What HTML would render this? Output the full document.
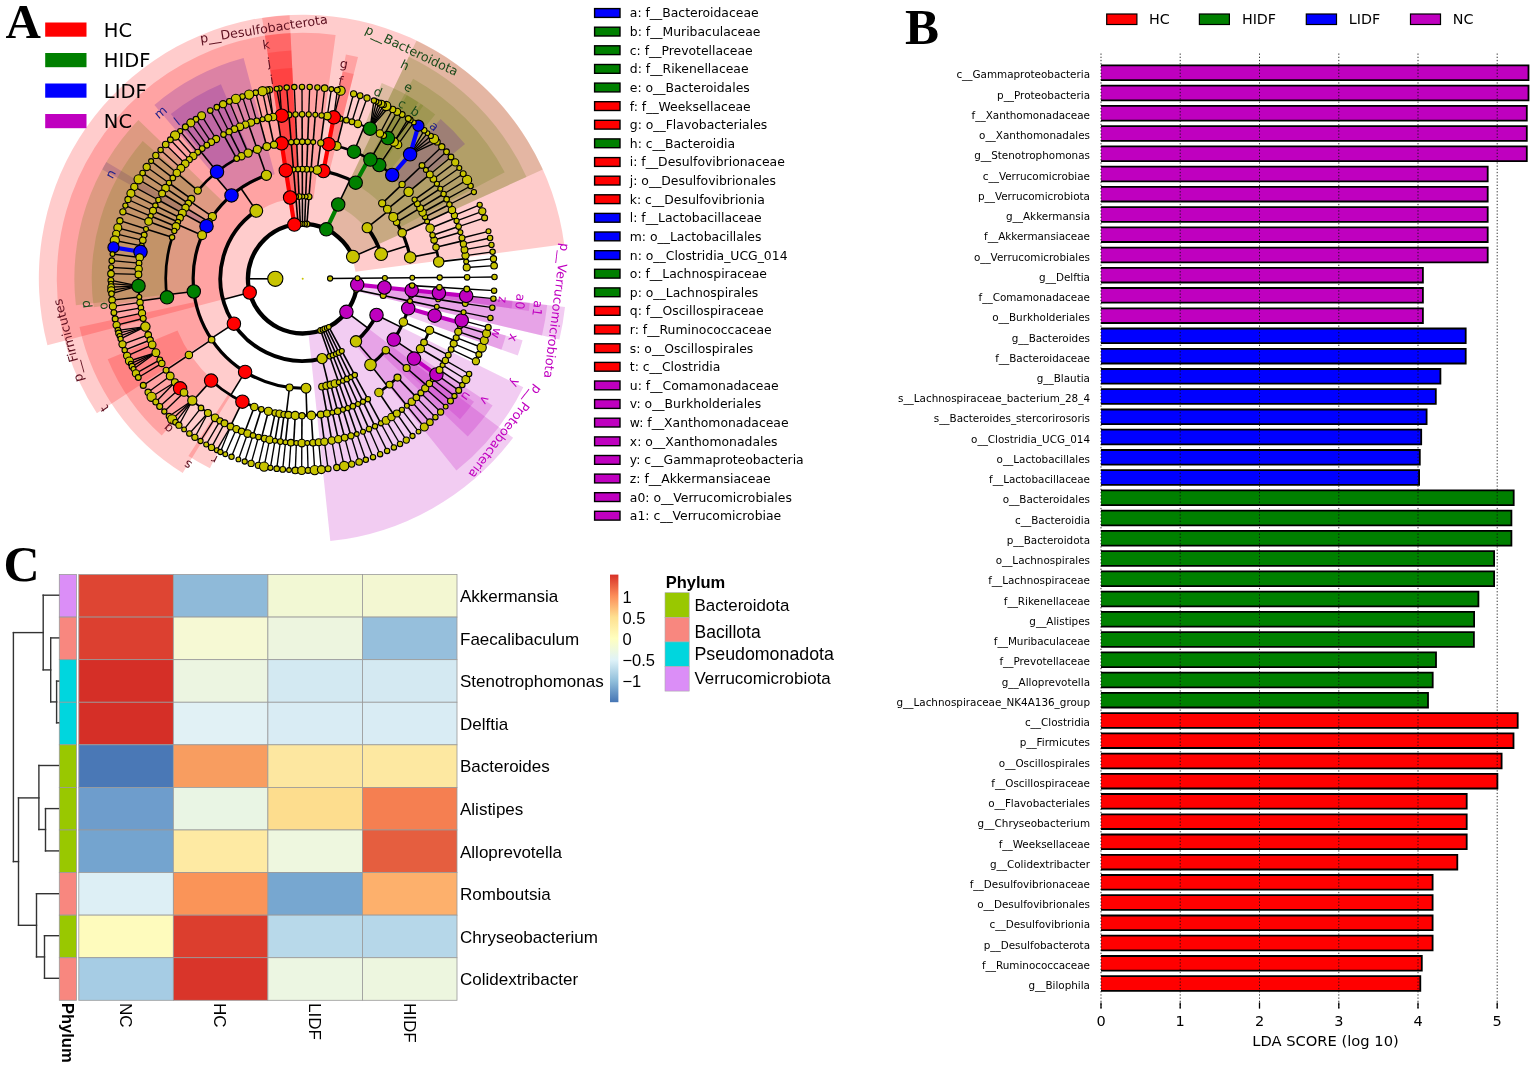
<!DOCTYPE html>
<html><head><meta charset="utf-8"><title>Figure</title><style>html,body{margin:0;padding:0;background:#fff;overflow:hidden}svg{display:block}</style></head><body>
<svg width="1535" height="1068" viewBox="0 0 1535 1068">
<style>.dv{font-family:"DejaVu Sans",sans-serif}.ls{font-family:"Liberation Sans",Arial,sans-serif}.lt{font-family:"Liberation Serif",serif;font-weight:bold}.cl{font-family:"DejaVu Sans",sans-serif;font-size:12.5px;text-anchor:middle;dominant-baseline:central}.pl{font-family:"DejaVu Sans",sans-serif;font-size:12.6px;text-anchor:middle;dominant-baseline:central}</style>
<rect width="100%" height="100%" fill="#fff"/>
<g id="clado">
<path d="M542.8 169.5A263.8 263.8 0 0 0 416.5 40.7L325.7 230.6A53.3 53.3 0 0 1 351.2 256.6Z" fill="#5a7800" fill-opacity="0.2"/>
<path d="M289.6 15.2A263.8 263.8 0 0 0 262.1 18.0L294.5 226.0A53.3 53.3 0 0 1 300.0 225.5Z" fill="#ff0000" fill-opacity="0.2"/>
<path d="M564.2 244.3A263.8 263.8 0 1 0 47.4 345.2L251.1 292.1A53.3 53.3 0 1 1 355.5 271.7Z" fill="#ff0000" fill-opacity="0.2"/>
<path d="M330.3 541.1A263.8 263.8 0 0 0 513.1 437.8L345.2 310.9A53.3 53.3 0 0 1 308.3 331.7Z" fill="#bf00bf" fill-opacity="0.2"/>
<path d="M559.4 339.6A263.8 263.8 0 0 0 565.0 307.0L355.7 284.4A53.3 53.3 0 0 1 354.6 291.0Z" fill="#bf00bf" fill-opacity="0.2"/>
<path d="M526.5 176.9A245.9 245.9 0 0 0 408.8 56.8L337.5 205.9A80.7 80.7 0 0 1 376.2 245.3Z" fill="#5a7800" fill-opacity="0.2"/>
<path d="M290.5 33.1A245.9 245.9 0 0 0 264.9 35.7L290.3 199.0A80.7 80.7 0 0 1 298.7 198.1Z" fill="#ff0000" fill-opacity="0.2"/>
<path d="M335.6 35.0A245.9 245.9 0 0 0 96.9 413.3L235.2 322.9A80.7 80.7 0 0 1 313.5 198.7Z" fill="#ff0000" fill-opacity="0.2"/>
<path d="M456.4 470.6A245.9 245.9 0 0 0 523.3 387.3L375.1 314.3A80.7 80.7 0 0 1 353.2 341.7Z" fill="#bf00bf" fill-opacity="0.2"/>
<path d="M542.0 335.5A245.9 245.9 0 0 0 547.2 305.0L382.9 287.3A80.7 80.7 0 0 1 381.2 297.3Z" fill="#bf00bf" fill-opacity="0.2"/>
<path d="M504.7 172.2A228.4 228.4 0 0 0 413.1 78.7L354.9 184.1A108.1 108.1 0 0 1 398.3 228.3Z" fill="#5a7800" fill-opacity="0.2"/>
<path d="M358.0 57.1A228.4 228.4 0 0 0 345.9 54.4L323.1 172.6A108.1 108.1 0 0 1 328.9 173.8Z" fill="#ff0000" fill-opacity="0.2"/>
<path d="M291.3 50.6A228.4 228.4 0 0 0 267.6 53.0L286.1 171.9A108.1 108.1 0 0 1 297.3 170.7Z" fill="#ff0000" fill-opacity="0.2"/>
<path d="M243.6 58.1A228.4 228.4 0 0 0 154.4 105.0L232.5 196.5A108.1 108.1 0 0 1 274.7 174.3Z" fill="#5000aa" fill-opacity="0.2"/>
<path d="M106.3 162.1A228.4 228.4 0 0 0 102.2 169.4L207.8 227.0A108.1 108.1 0 0 1 209.7 223.5Z" fill="#5000aa" fill-opacity="0.2"/>
<path d="M138.4 120.0A228.4 228.4 0 0 0 75.9 305.3L195.3 291.3A108.1 108.1 0 0 1 224.9 203.6Z" fill="#5a7800" fill-opacity="0.2"/>
<path d="M79.5 327.0A228.4 228.4 0 0 0 182.7 473.0L245.9 370.7A108.1 108.1 0 0 1 197.0 301.5Z" fill="#ff0000" fill-opacity="0.2"/>
<path d="M467.7 436.6A228.4 228.4 0 0 0 492.6 405.6L392.6 338.8A108.1 108.1 0 0 1 380.8 353.5Z" fill="#bf00bf" fill-opacity="0.2"/>
<path d="M517.8 355.5A228.4 228.4 0 0 0 522.6 340.3L406.8 307.9A108.1 108.1 0 0 1 404.5 315.1Z" fill="#bf00bf" fill-opacity="0.2"/>
<path d="M528.8 310.9A228.4 228.4 0 0 0 529.8 302.6L410.2 290.0A108.1 108.1 0 0 1 409.7 293.9Z" fill="#bf00bf" fill-opacity="0.2"/>
<path d="M465.0 143.9A211.0 211.0 0 0 0 440.6 119.0L391.2 176.1A135.5 135.5 0 0 1 407.0 192.1Z" fill="#5000aa" fill-opacity="0.2"/>
<path d="M435.2 114.5A211.0 211.0 0 0 0 420.7 103.8L378.5 166.4A135.5 135.5 0 0 1 387.8 173.2Z" fill="#5a7800" fill-opacity="0.2"/>
<path d="M423.4 105.6A211.0 211.0 0 0 0 406.9 95.2L369.6 160.9A135.5 135.5 0 0 1 380.2 167.6Z" fill="#5a7800" fill-opacity="0.2"/>
<path d="M418.5 102.3A211.0 211.0 0 0 0 381.7 83.1L353.5 153.1A135.5 135.5 0 0 1 377.1 165.4Z" fill="#5a7800" fill-opacity="0.2"/>
<path d="M353.7 74.0A211.0 211.0 0 0 0 342.6 71.5L328.3 145.6A135.5 135.5 0 0 1 335.5 147.2Z" fill="#ff0000" fill-opacity="0.2"/>
<path d="M292.2 68.0A211.0 211.0 0 0 0 270.2 70.2L281.9 144.8A135.5 135.5 0 0 1 296.0 143.4Z" fill="#ff0000" fill-opacity="0.2"/>
<path d="M220.9 84.2A211.0 211.0 0 0 0 170.8 114.0L218.0 173.0A135.5 135.5 0 0 1 250.2 153.8Z" fill="#5000aa" fill-opacity="0.2"/>
<path d="M142.7 141.1A211.0 211.0 0 0 0 93.7 307.3L168.5 297.1A135.5 135.5 0 0 1 200.0 190.3Z" fill="#5a7800" fill-opacity="0.2"/>
<path d="M107.7 359.3A211.0 211.0 0 0 0 161.7 435.6L212.1 379.5A135.5 135.5 0 0 1 177.5 330.4Z" fill="#ff0000" fill-opacity="0.2"/>
<path d="M188.4 456.1A211.0 211.0 0 0 0 209.9 468.2L243.1 400.4A135.5 135.5 0 0 1 229.3 392.6Z" fill="#ff0000" fill-opacity="0.2"/>
<path d="M460.0 419.3A211.0 211.0 0 0 0 474.0 401.8L412.7 357.8A135.5 135.5 0 0 1 403.7 369.0Z" fill="#bf00bf" fill-opacity="0.2"/>
<path d="M501.4 349.7A211.0 211.0 0 0 0 505.9 335.6L433.2 315.3A135.5 135.5 0 0 1 430.3 324.3Z" fill="#bf00bf" fill-opacity="0.2"/>
<path d="M511.6 308.4A211.0 211.0 0 0 0 512.5 300.8L437.5 292.9A135.5 135.5 0 0 1 436.8 297.8Z" fill="#bf00bf" fill-opacity="0.2"/>
<g fill="none" stroke-linecap="butt"><path d="M275.3 278.8L247.9 278.8" stroke="#000" stroke-width="1.6"/>
<path d="M352.9 256.7A54.8 54.8 0 1 0 357.2 284.6" stroke="#000" stroke-width="4.3" fill="none"/>
<path d="M352.9 256.7L378.0 245.7" stroke="#000" stroke-width="1.6"/>
<path d="M381.1 254.1A82.2 82.2 0 0 0 367.2 227.7" stroke="#000" stroke-width="3.8" fill="none"/>
<path d="M381.1 254.1L407.3 245.8" stroke="#000" stroke-width="1.6"/>
<path d="M410.2 257.4A109.6 109.6 0 0 0 396.6 222.3" stroke="#000" stroke-width="3.2" fill="none"/>
<path d="M410.2 257.4L437.1 252.1" stroke="#000" stroke-width="1.6"/>
<path d="M438.7 261.9A137.0 137.0 0 0 0 432.6 235.2" stroke="#000" stroke-width="2.7" fill="none"/>
<path d="M438.7 261.9L465.9 258.6" stroke="#000" stroke-width="1.6"/>
<path d="M466.7 267.5A164.4 164.4 0 0 0 464.5 249.7" stroke="#000" stroke-width="2.0" fill="none"/>
<path d="M466.7 267.5L494.1 265.7" stroke="#000" stroke-width="1.35"/>
<path d="M466.2 261.6L493.5 258.7" stroke="#000" stroke-width="1.35"/>
<path d="M465.5 255.6L492.6 251.8" stroke="#000" stroke-width="1.35"/>
<path d="M464.5 249.7L491.5 244.9" stroke="#000" stroke-width="1.35"/>
<path d="M436.0 247.2L462.7 240.9" stroke="#000" stroke-width="1.6"/>
<path d="M463.4 243.9A164.4 164.4 0 0 0 462.0 238.0" stroke="#000" stroke-width="2.0" fill="none"/>
<path d="M463.4 243.9L490.1 238.0" stroke="#000" stroke-width="1.35"/>
<path d="M462.0 238.0L488.5 231.3" stroke="#000" stroke-width="1.35"/>
<path d="M434.1 240.0L460.4 232.3" stroke="#000" stroke-width="1.6"/>
<path d="M432.6 235.2L458.6 226.6" stroke="#000" stroke-width="1.6"/>
<path d="M458.6 226.6L484.6 217.9" stroke="#000" stroke-width="1.35"/>
<path d="M402.2 232.8L427.1 221.4" stroke="#000" stroke-width="1.6"/>
<path d="M430.1 228.2A137.0 137.0 0 0 0 422.6 212.5" stroke="#000" stroke-width="2.7" fill="none"/>
<path d="M430.1 228.2L455.5 218.1" stroke="#000" stroke-width="1.6"/>
<path d="M456.6 220.9A164.4 164.4 0 0 0 454.4 215.4" stroke="#000" stroke-width="2.0" fill="none"/>
<path d="M456.6 220.9L482.3 211.3" stroke="#000" stroke-width="1.35"/>
<path d="M454.4 215.4L479.7 204.8" stroke="#000" stroke-width="1.35"/>
<path d="M427.1 221.4L452.0 209.9" stroke="#000" stroke-width="1.6"/>
<path d="M425.0 216.9L449.4 204.5" stroke="#000" stroke-width="1.6"/>
<path d="M449.4 204.5L473.9 192.1" stroke="#000" stroke-width="1.35"/>
<path d="M422.6 212.5L446.6 199.2" stroke="#000" stroke-width="1.6"/>
<path d="M446.6 199.2L470.6 186.0" stroke="#000" stroke-width="1.35"/>
<path d="M396.6 222.3L420.1 208.1" stroke="#000" stroke-width="1.6"/>
<path d="M420.1 208.1L443.6 194.0" stroke="#000" stroke-width="1.6"/>
<path d="M443.6 194.0L467.1 179.9" stroke="#000" stroke-width="1.35"/>
<path d="M367.2 227.7L388.7 210.7" stroke="#000" stroke-width="1.6"/>
<path d="M393.3 217.0A109.6 109.6 0 0 0 382.2 203.3" stroke="#000" stroke-width="3.2" fill="none"/>
<path d="M393.3 217.0L416.0 201.6" stroke="#000" stroke-width="1.6"/>
<path d="M417.3 203.7A137.0 137.0 0 0 0 414.6 199.6" stroke="#000" stroke-width="2.7" fill="none"/>
<path d="M417.3 203.7L440.3 188.7" stroke="#000" stroke-width="1.6"/>
<path d="M440.3 188.7L463.2 173.7" stroke="#000" stroke-width="1.35"/>
<path d="M414.6 199.6L436.9 183.8" stroke="#000" stroke-width="1.6"/>
<path d="M436.9 183.8L459.3 168.0" stroke="#000" stroke-width="1.35"/>
<path d="M387.4 209.2L408.6 191.8" stroke="#000" stroke-width="1.6"/>
<path d="M408.6 191.8L429.8 174.4" stroke="#000" stroke-width="1.6"/>
<path d="M433.4 179.0A164.4 164.4 0 0 0 425.9 169.9" stroke="#000" stroke-width="2.0" fill="none"/>
<path d="M433.4 179.0L455.2 162.4" stroke="#000" stroke-width="1.35"/>
<path d="M429.8 174.4L451.0 157.0" stroke="#000" stroke-width="1.35"/>
<path d="M425.9 169.9L446.5 151.8" stroke="#000" stroke-width="1.35"/>
<path d="M382.2 203.3L402.1 184.4" stroke="#000" stroke-width="1.6"/>
<path d="M402.1 184.4L422.0 165.5" stroke="#000" stroke-width="1.6"/>
<path d="M422.0 165.5L441.8 146.7" stroke="#000" stroke-width="1.35"/>
<path d="M326.3 229.3L338.2 204.5" stroke="#000" stroke-width="1.6"/>
<path d="M338.2 204.5L350.0 179.8" stroke="#000" stroke-width="1.6"/>
<path d="M355.7 182.7A109.6 109.6 0 0 0 317.2 170.1" stroke="#000" stroke-width="3.2" fill="none"/>
<path d="M355.7 182.7L368.9 158.8" stroke="#000" stroke-width="1.6"/>
<path d="M392.2 175.0A137.0 137.0 0 0 0 336.7 146.0" stroke="#000" stroke-width="2.7" fill="none"/>
<path d="M392.2 175.0L410.1 154.3" stroke="#000" stroke-width="1.6"/>
<path d="M410.1 154.3L437.1 141.9" stroke="#000" stroke-width="1.35"/>
<path d="M410.1 154.3L434.0 138.9" stroke="#000" stroke-width="1.35"/>
<path d="M410.1 154.3L430.8 135.9" stroke="#000" stroke-width="1.35"/>
<path d="M410.1 154.3L427.5 133.1" stroke="#000" stroke-width="1.35"/>
<path d="M410.1 154.3L424.2 130.3" stroke="#000" stroke-width="1.35"/>
<path d="M379.3 165.1L394.6 142.4" stroke="#000" stroke-width="1.6"/>
<path d="M397.9 144.7A164.4 164.4 0 0 0 391.3 140.2" stroke="#000" stroke-width="2.0" fill="none"/>
<path d="M397.9 144.7L413.8 122.4" stroke="#000" stroke-width="1.35"/>
<path d="M394.0 142.0L410.2 119.9" stroke="#000" stroke-width="1.35"/>
<path d="M394.0 142.0L408.3 118.6" stroke="#000" stroke-width="1.35"/>
<path d="M370.4 159.6L383.9 135.8" stroke="#000" stroke-width="1.6"/>
<path d="M387.9 138.1A164.4 164.4 0 0 0 379.9 133.5" stroke="#000" stroke-width="2.0" fill="none"/>
<path d="M387.9 138.1L402.1 114.6" stroke="#000" stroke-width="1.35"/>
<path d="M383.7 135.6L397.1 111.8" stroke="#000" stroke-width="1.35"/>
<path d="M379.9 133.5L392.7 109.4" stroke="#000" stroke-width="1.35"/>
<path d="M354.0 151.7L364.3 126.3" stroke="#000" stroke-width="1.6"/>
<path d="M370.1 128.7A164.4 164.4 0 0 0 351.9 121.8" stroke="#000" stroke-width="2.0" fill="none"/>
<path d="M370.1 128.7L388.6 107.2" stroke="#000" stroke-width="1.35"/>
<path d="M370.1 128.7L386.2 106.0" stroke="#000" stroke-width="1.35"/>
<path d="M370.1 128.7L383.8 104.9" stroke="#000" stroke-width="1.35"/>
<path d="M370.1 128.7L381.3 103.8" stroke="#000" stroke-width="1.35"/>
<path d="M370.1 128.7L378.9 102.7" stroke="#000" stroke-width="1.35"/>
<path d="M370.1 128.7L376.4 101.6" stroke="#000" stroke-width="1.35"/>
<path d="M370.1 128.7L373.9 100.6" stroke="#000" stroke-width="1.35"/>
<path d="M357.8 123.8L367.0 98.0" stroke="#000" stroke-width="1.35"/>
<path d="M351.9 121.8L360.1 95.7" stroke="#000" stroke-width="1.35"/>
<path d="M336.7 146.0L343.4 119.4" stroke="#000" stroke-width="1.6"/>
<path d="M346.4 120.2A164.4 164.4 0 0 0 340.5 118.7" stroke="#000" stroke-width="2.0" fill="none"/>
<path d="M346.4 120.2L353.6 93.8" stroke="#000" stroke-width="1.35"/>
<path d="M323.4 171.1L328.6 144.2" stroke="#000" stroke-width="1.6"/>
<path d="M328.6 144.2L333.8 117.3" stroke="#000" stroke-width="1.6"/>
<path d="M333.8 117.3L340.6 90.7" stroke="#000" stroke-width="1.35"/>
<path d="M333.8 117.3L337.3 90.1" stroke="#000" stroke-width="1.35"/>
<path d="M317.2 170.1L320.8 142.9" stroke="#000" stroke-width="1.6"/>
<path d="M320.8 142.9L324.4 115.7" stroke="#000" stroke-width="1.6"/>
<path d="M327.3 116.1A164.4 164.4 0 0 0 321.6 115.4" stroke="#000" stroke-width="2.0" fill="none"/>
<path d="M327.3 116.1L331.4 89.1" stroke="#000" stroke-width="1.35"/>
<path d="M321.6 115.4L324.7 88.2" stroke="#000" stroke-width="1.35"/>
<path d="M306.9 224.1L309.0 196.7" stroke="#000" stroke-width="1.6"/>
<path d="M309.0 196.7L311.1 169.4" stroke="#000" stroke-width="1.6"/>
<path d="M311.1 169.4L313.2 142.1" stroke="#000" stroke-width="1.6"/>
<path d="M313.2 142.1L315.3 114.8" stroke="#000" stroke-width="1.6"/>
<path d="M315.3 114.8L317.4 87.5" stroke="#000" stroke-width="1.35"/>
<path d="M304.7 223.9L305.7 196.6" stroke="#000" stroke-width="1.6"/>
<path d="M305.7 196.6L306.7 169.2" stroke="#000" stroke-width="1.6"/>
<path d="M306.7 169.2L307.7 141.8" stroke="#000" stroke-width="1.6"/>
<path d="M307.7 141.8L308.7 114.4" stroke="#000" stroke-width="1.6"/>
<path d="M308.7 114.4L309.7 87.0" stroke="#000" stroke-width="1.35"/>
<path d="M302.5 223.9L302.4 196.5" stroke="#000" stroke-width="1.6"/>
<path d="M302.4 196.5L302.3 169.1" stroke="#000" stroke-width="1.6"/>
<path d="M302.3 169.1L302.2 141.7" stroke="#000" stroke-width="1.6"/>
<path d="M302.2 141.7L302.1 114.3" stroke="#000" stroke-width="1.6"/>
<path d="M302.1 114.3L302.0 86.9" stroke="#000" stroke-width="1.35"/>
<path d="M300.3 224.0L299.1 196.6" stroke="#000" stroke-width="1.6"/>
<path d="M299.1 196.6L297.9 169.2" stroke="#000" stroke-width="1.6"/>
<path d="M297.9 169.2L296.7 141.8" stroke="#000" stroke-width="1.6"/>
<path d="M296.7 141.8L295.5 114.5" stroke="#000" stroke-width="1.6"/>
<path d="M295.5 114.5L294.3 87.1" stroke="#000" stroke-width="1.35"/>
<path d="M298.1 224.1L295.8 196.8" stroke="#000" stroke-width="1.6"/>
<path d="M295.8 196.8L293.5 169.5" stroke="#000" stroke-width="1.6"/>
<path d="M293.5 169.5L291.2 142.2" stroke="#000" stroke-width="1.6"/>
<path d="M291.2 142.2L288.9 114.9" stroke="#000" stroke-width="1.6"/>
<path d="M288.9 114.9L286.7 87.6" stroke="#000" stroke-width="1.35"/>
<path d="M294.3 224.6L290.1 197.5" stroke="#000" stroke-width="1.6"/>
<path d="M290.1 197.5L285.8 170.4" stroke="#000" stroke-width="1.6"/>
<path d="M285.8 170.4L281.6 143.3" stroke="#000" stroke-width="1.6"/>
<path d="M281.6 143.3L277.4 116.3" stroke="#000" stroke-width="1.6"/>
<path d="M281.7 115.7A164.4 164.4 0 0 0 273.0 117.0" stroke="#000" stroke-width="2.0" fill="none"/>
<path d="M281.7 115.7L279.7 88.3" stroke="#000" stroke-width="1.35"/>
<path d="M281.7 115.7L276.7 88.7" stroke="#000" stroke-width="1.35"/>
<path d="M273.0 117.0L269.4 89.8" stroke="#000" stroke-width="1.35"/>
<path d="M273.0 117.0L266.8 90.3" stroke="#000" stroke-width="1.35"/>
<path d="M249.7 292.5L223.2 299.4" stroke="#000" stroke-width="1.6"/>
<path d="M256.3 210.8A82.2 82.2 0 0 0 322.1 358.6" stroke="#000" stroke-width="3.8" fill="none"/>
<path d="M256.3 210.8L240.9 188.2" stroke="#000" stroke-width="1.6"/>
<path d="M266.4 175.3A109.6 109.6 0 0 0 212.4 216.6" stroke="#000" stroke-width="3.2" fill="none"/>
<path d="M266.4 175.3L257.3 149.4" stroke="#000" stroke-width="1.6"/>
<path d="M274.0 144.7A137.0 137.0 0 0 0 241.4 156.2" stroke="#000" stroke-width="2.7" fill="none"/>
<path d="M274.0 144.7L268.2 118.0" stroke="#000" stroke-width="1.6"/>
<path d="M268.2 118.0L262.5 91.2" stroke="#000" stroke-width="1.35"/>
<path d="M266.8 146.5L259.6 120.1" stroke="#000" stroke-width="1.6"/>
<path d="M262.5 119.3A164.4 164.4 0 0 0 256.7 120.9" stroke="#000" stroke-width="2.0" fill="none"/>
<path d="M262.5 119.3L255.7 92.7" stroke="#000" stroke-width="1.35"/>
<path d="M256.7 120.9L249.1 94.6" stroke="#000" stroke-width="1.35"/>
<path d="M257.3 149.4L248.2 123.6" stroke="#000" stroke-width="1.6"/>
<path d="M251.0 122.6A164.4 164.4 0 0 0 245.4 124.6" stroke="#000" stroke-width="2.0" fill="none"/>
<path d="M251.0 122.6L242.4 96.6" stroke="#000" stroke-width="1.35"/>
<path d="M245.4 124.6L235.9 98.9" stroke="#000" stroke-width="1.35"/>
<path d="M248.1 153.1L237.2 127.9" stroke="#000" stroke-width="1.6"/>
<path d="M239.9 126.8A164.4 164.4 0 0 0 234.4 129.1" stroke="#000" stroke-width="2.0" fill="none"/>
<path d="M239.9 126.8L229.4 101.4" stroke="#000" stroke-width="1.35"/>
<path d="M234.4 129.1L223.1 104.2" stroke="#000" stroke-width="1.35"/>
<path d="M241.4 156.2L229.1 131.7" stroke="#000" stroke-width="1.6"/>
<path d="M229.1 131.7L216.8 107.2" stroke="#000" stroke-width="1.35"/>
<path d="M231.5 195.4L213.7 174.5" stroke="#000" stroke-width="1.6"/>
<path d="M236.7 158.6A137.0 137.0 0 0 0 197.8 190.6" stroke="#000" stroke-width="2.7" fill="none"/>
<path d="M236.7 158.6L223.5 134.6" stroke="#000" stroke-width="1.6"/>
<path d="M223.5 134.6L210.3 110.6" stroke="#000" stroke-width="1.35"/>
<path d="M217.0 171.8L199.9 150.4" stroke="#000" stroke-width="1.6"/>
<path d="M216.1 139.0A164.4 164.4 0 0 0 185.2 163.7" stroke="#000" stroke-width="2.0" fill="none"/>
<path d="M216.1 139.0L201.6 115.7" stroke="#000" stroke-width="1.35"/>
<path d="M211.2 142.1L196.0 119.3" stroke="#000" stroke-width="1.35"/>
<path d="M206.8 145.2L190.8 122.9" stroke="#000" stroke-width="1.35"/>
<path d="M202.2 148.6L185.4 126.9" stroke="#000" stroke-width="1.35"/>
<path d="M197.7 152.2L180.2 131.1" stroke="#000" stroke-width="1.35"/>
<path d="M193.3 156.0L175.1 135.5" stroke="#000" stroke-width="1.35"/>
<path d="M189.3 159.6L170.4 139.8" stroke="#000" stroke-width="1.35"/>
<path d="M185.2 163.7L165.7 144.5" stroke="#000" stroke-width="1.35"/>
<path d="M197.8 190.6L176.8 173.0" stroke="#000" stroke-width="1.6"/>
<path d="M180.9 168.3A164.4 164.4 0 0 0 172.8 177.9" stroke="#000" stroke-width="2.0" fill="none"/>
<path d="M180.9 168.3L160.6 149.9" stroke="#000" stroke-width="1.35"/>
<path d="M176.8 173.0L155.8 155.4" stroke="#000" stroke-width="1.35"/>
<path d="M172.8 177.9L151.1 161.1" stroke="#000" stroke-width="1.35"/>
<path d="M212.4 216.6L189.8 201.1" stroke="#000" stroke-width="1.6"/>
<path d="M191.3 198.9A137.0 137.0 0 0 0 188.3 203.3" stroke="#000" stroke-width="2.7" fill="none"/>
<path d="M191.3 198.9L169.0 183.0" stroke="#000" stroke-width="1.6"/>
<path d="M169.0 183.0L146.7 167.0" stroke="#000" stroke-width="1.35"/>
<path d="M188.3 203.3L165.5 188.2" stroke="#000" stroke-width="1.6"/>
<path d="M165.5 188.2L142.6 173.1" stroke="#000" stroke-width="1.35"/>
<path d="M233.9 323.7L211.0 338.7" stroke="#000" stroke-width="1.6"/>
<path d="M209.0 221.9A109.6 109.6 0 0 0 306.0 388.2" stroke="#000" stroke-width="3.2" fill="none"/>
<path d="M209.0 221.9L185.5 207.7" stroke="#000" stroke-width="1.6"/>
<path d="M185.5 207.7L162.1 193.5" stroke="#000" stroke-width="1.6"/>
<path d="M162.1 193.5L138.6 179.3" stroke="#000" stroke-width="1.35"/>
<path d="M206.5 226.2L182.4 213.1" stroke="#000" stroke-width="1.6"/>
<path d="M182.4 213.1L158.4 200.0" stroke="#000" stroke-width="1.6"/>
<path d="M158.4 200.0L134.3 186.9" stroke="#000" stroke-width="1.35"/>
<path d="M202.1 235.2L177.0 224.3" stroke="#000" stroke-width="1.6"/>
<path d="M180.0 217.8A137.0 137.0 0 0 0 174.3 230.9" stroke="#000" stroke-width="2.7" fill="none"/>
<path d="M180.0 217.8L155.4 205.6" stroke="#000" stroke-width="1.6"/>
<path d="M155.4 205.6L130.9 193.4" stroke="#000" stroke-width="1.35"/>
<path d="M177.9 222.1L153.0 210.8" stroke="#000" stroke-width="1.6"/>
<path d="M153.0 210.8L128.0 199.5" stroke="#000" stroke-width="1.35"/>
<path d="M176.0 226.5L150.7 216.1" stroke="#000" stroke-width="1.6"/>
<path d="M150.7 216.1L125.4 205.6" stroke="#000" stroke-width="1.35"/>
<path d="M174.3 230.9L148.6 221.4" stroke="#000" stroke-width="1.6"/>
<path d="M148.6 221.4L122.9 211.8" stroke="#000" stroke-width="1.35"/>
<path d="M193.8 291.5L166.6 294.7" stroke="#000" stroke-width="1.6"/>
<path d="M172.1 237.3A137.0 137.0 0 0 0 167.0 297.3" stroke="#000" stroke-width="2.7" fill="none"/>
<path d="M172.1 237.3L146.0 229.0" stroke="#000" stroke-width="1.6"/>
<path d="M146.0 229.0L119.9 220.7" stroke="#000" stroke-width="1.35"/>
<path d="M167.0 297.3L139.8 301.0" stroke="#000" stroke-width="1.6"/>
<path d="M144.2 235.0A164.4 164.4 0 0 0 161.8 363.4" stroke="#000" stroke-width="2.0" fill="none"/>
<path d="M144.2 235.0L117.8 227.8" stroke="#000" stroke-width="1.35"/>
<path d="M142.8 240.3L116.2 233.9" stroke="#000" stroke-width="1.35"/>
<path d="M141.6 245.9L114.8 240.5" stroke="#000" stroke-width="1.35"/>
<path d="M139.7 257.5L112.5 254.0" stroke="#000" stroke-width="1.35"/>
<path d="M139.0 263.2L111.8 260.7" stroke="#000" stroke-width="1.35"/>
<path d="M138.6 269.0L111.2 267.3" stroke="#000" stroke-width="1.35"/>
<path d="M138.4 274.4L111.0 273.7" stroke="#000" stroke-width="1.35"/>
<path d="M138.5 285.9L110.9 280.4" stroke="#000" stroke-width="1.35"/>
<path d="M138.5 285.9L111.0 283.7" stroke="#000" stroke-width="1.35"/>
<path d="M138.5 285.9L111.1 287.1" stroke="#000" stroke-width="1.35"/>
<path d="M138.5 285.9L111.3 290.4" stroke="#000" stroke-width="1.35"/>
<path d="M138.5 285.9L111.5 293.7" stroke="#000" stroke-width="1.35"/>
<path d="M139.3 297.0L112.1 300.1" stroke="#000" stroke-width="1.35"/>
<path d="M140.0 302.4L112.9 306.4" stroke="#000" stroke-width="1.35"/>
<path d="M140.9 307.8L113.9 312.7" stroke="#000" stroke-width="1.35"/>
<path d="M142.0 313.2L115.2 318.9" stroke="#000" stroke-width="1.35"/>
<path d="M143.2 318.5L116.6 325.1" stroke="#000" stroke-width="1.35"/>
<path d="M145.4 326.6L118.0 330.3" stroke="#000" stroke-width="1.35"/>
<path d="M145.4 326.6L118.8 333.2" stroke="#000" stroke-width="1.35"/>
<path d="M145.4 326.6L119.7 336.1" stroke="#000" stroke-width="1.35"/>
<path d="M145.4 326.6L120.6 338.9" stroke="#000" stroke-width="1.35"/>
<path d="M148.2 334.9L122.5 344.3" stroke="#000" stroke-width="1.35"/>
<path d="M150.2 340.0L124.7 350.2" stroke="#000" stroke-width="1.35"/>
<path d="M152.2 344.8L127.1 355.8" stroke="#000" stroke-width="1.35"/>
<path d="M155.9 352.7L129.4 361.0" stroke="#000" stroke-width="1.35"/>
<path d="M155.9 352.7L130.8 363.7" stroke="#000" stroke-width="1.35"/>
<path d="M155.9 352.7L132.1 366.4" stroke="#000" stroke-width="1.35"/>
<path d="M155.9 352.7L133.5 369.0" stroke="#000" stroke-width="1.35"/>
<path d="M159.8 359.9L135.9 373.4" stroke="#000" stroke-width="1.35"/>
<path d="M161.8 363.4L138.3 377.5" stroke="#000" stroke-width="1.35"/>
<path d="M211.6 339.7L188.9 354.9" stroke="#000" stroke-width="1.6"/>
<path d="M188.9 354.9L166.1 370.2" stroke="#000" stroke-width="1.6"/>
<path d="M166.1 370.2L143.3 385.4" stroke="#000" stroke-width="1.35"/>
<path d="M245.1 371.9L230.7 395.3" stroke="#000" stroke-width="1.6"/>
<path d="M211.1 380.6A137.0 137.0 0 0 0 279.6 413.7" stroke="#000" stroke-width="2.7" fill="none"/>
<path d="M211.1 380.6L192.8 401.0" stroke="#000" stroke-width="1.6"/>
<path d="M170.2 376.0A164.4 164.4 0 0 0 220.0 420.8" stroke="#000" stroke-width="2.0" fill="none"/>
<path d="M170.2 376.0L148.1 392.2" stroke="#000" stroke-width="1.35"/>
<path d="M174.9 382.2L151.6 396.8" stroke="#000" stroke-width="1.35"/>
<path d="M174.9 382.2L155.8 402.0" stroke="#000" stroke-width="1.35"/>
<path d="M180.1 388.3L159.7 406.5" stroke="#000" stroke-width="1.35"/>
<path d="M184.0 392.5L164.3 411.5" stroke="#000" stroke-width="1.35"/>
<path d="M192.3 400.5L169.0 416.2" stroke="#000" stroke-width="1.35"/>
<path d="M192.3 400.5L172.2 419.3" stroke="#000" stroke-width="1.35"/>
<path d="M192.3 400.5L175.5 422.3" stroke="#000" stroke-width="1.35"/>
<path d="M192.3 400.5L178.9 425.2" stroke="#000" stroke-width="1.35"/>
<path d="M201.0 407.9L184.1 429.4" stroke="#000" stroke-width="1.35"/>
<path d="M207.9 413.0L189.4 433.5" stroke="#000" stroke-width="1.35"/>
<path d="M207.9 413.0L194.9 437.3" stroke="#000" stroke-width="1.35"/>
<path d="M215.1 417.8L200.5 441.0" stroke="#000" stroke-width="1.35"/>
<path d="M220.0 420.8L206.2 444.5" stroke="#000" stroke-width="1.35"/>
<path d="M242.4 401.7L230.4 426.3" stroke="#000" stroke-width="1.6"/>
<path d="M224.5 423.3A164.4 164.4 0 0 0 236.4 429.1" stroke="#000" stroke-width="2.0" fill="none"/>
<path d="M224.5 423.3L211.5 447.4" stroke="#000" stroke-width="1.35"/>
<path d="M230.6 426.5L216.8 450.2" stroke="#000" stroke-width="1.35"/>
<path d="M230.6 426.5L220.4 452.0" stroke="#000" stroke-width="1.35"/>
<path d="M236.4 429.1L225.3 454.2" stroke="#000" stroke-width="1.35"/>
<path d="M254.3 406.9L244.6 432.5" stroke="#000" stroke-width="1.6"/>
<path d="M241.6 431.3A164.4 164.4 0 0 0 247.6 433.6" stroke="#000" stroke-width="2.0" fill="none"/>
<path d="M241.6 431.3L231.5 456.8" stroke="#000" stroke-width="1.35"/>
<path d="M247.6 433.6L238.4 459.4" stroke="#000" stroke-width="1.35"/>
<path d="M261.3 409.3L253.0 435.4" stroke="#000" stroke-width="1.6"/>
<path d="M253.0 435.4L244.7 461.5" stroke="#000" stroke-width="1.35"/>
<path d="M268.4 411.3L261.5 437.9" stroke="#000" stroke-width="1.6"/>
<path d="M258.5 437.0A164.4 164.4 0 0 0 264.6 438.6" stroke="#000" stroke-width="2.0" fill="none"/>
<path d="M258.5 437.0L251.1 463.4" stroke="#000" stroke-width="1.35"/>
<path d="M264.6 438.6L258.3 465.3" stroke="#000" stroke-width="1.35"/>
<path d="M275.2 412.9L269.6 439.7" stroke="#000" stroke-width="1.6"/>
<path d="M269.6 439.7L264.1 466.6" stroke="#000" stroke-width="1.35"/>
<path d="M279.6 413.7L275.0 440.7" stroke="#000" stroke-width="1.6"/>
<path d="M275.0 440.7L270.4 467.8" stroke="#000" stroke-width="1.35"/>
<path d="M289.5 387.5L286.2 414.7" stroke="#000" stroke-width="1.6"/>
<path d="M284.1 414.4A137.0 137.0 0 0 0 288.4 414.9" stroke="#000" stroke-width="2.7" fill="none"/>
<path d="M284.1 414.4L280.4 441.6" stroke="#000" stroke-width="1.6"/>
<path d="M280.4 441.6L276.7 468.7" stroke="#000" stroke-width="1.35"/>
<path d="M288.4 414.9L285.5 442.2" stroke="#000" stroke-width="1.6"/>
<path d="M285.5 442.2L282.7 469.4" stroke="#000" stroke-width="1.35"/>
<path d="M306.0 388.2L306.9 415.6" stroke="#000" stroke-width="1.6"/>
<path d="M295.2 415.5A137.0 137.0 0 0 0 320.8 414.5" stroke="#000" stroke-width="2.7" fill="none"/>
<path d="M295.2 415.5L293.7 442.9" stroke="#000" stroke-width="1.6"/>
<path d="M290.9 442.7A164.4 164.4 0 0 0 296.4 443.0" stroke="#000" stroke-width="2.0" fill="none"/>
<path d="M290.9 442.7L289.0 470.0" stroke="#000" stroke-width="1.35"/>
<path d="M296.4 443.0L295.3 470.4" stroke="#000" stroke-width="1.35"/>
<path d="M302.0 415.7L301.8 443.1" stroke="#000" stroke-width="1.6"/>
<path d="M301.8 443.1L301.7 470.5" stroke="#000" stroke-width="1.35"/>
<path d="M311.3 415.4L313.0 442.8" stroke="#000" stroke-width="1.6"/>
<path d="M307.3 443.0A164.4 164.4 0 0 0 318.7 442.3" stroke="#000" stroke-width="2.0" fill="none"/>
<path d="M307.3 443.0L308.1 470.4" stroke="#000" stroke-width="1.35"/>
<path d="M313.0 442.8L314.7 470.1" stroke="#000" stroke-width="1.35"/>
<path d="M318.7 442.3L321.4 469.6" stroke="#000" stroke-width="1.35"/>
<path d="M320.8 414.5L324.4 441.7" stroke="#000" stroke-width="1.6"/>
<path d="M324.4 441.7L328.1 468.8" stroke="#000" stroke-width="1.35"/>
<path d="M322.1 358.6L328.6 385.2" stroke="#000" stroke-width="1.6"/>
<path d="M322.1 386.6A109.6 109.6 0 0 0 334.9 383.5" stroke="#000" stroke-width="3.2" fill="none"/>
<path d="M322.1 386.6L327.0 413.5" stroke="#000" stroke-width="1.6"/>
<path d="M327.0 413.5L331.8 440.5" stroke="#000" stroke-width="1.6"/>
<path d="M331.8 440.5L336.7 467.5" stroke="#000" stroke-width="1.35"/>
<path d="M326.4 385.7L332.4 412.5" stroke="#000" stroke-width="1.6"/>
<path d="M332.4 412.5L338.3 439.2" stroke="#000" stroke-width="1.6"/>
<path d="M338.3 439.2L344.2 466.0" stroke="#000" stroke-width="1.35"/>
<path d="M330.7 384.7L337.7 411.2" stroke="#000" stroke-width="1.6"/>
<path d="M337.7 411.2L344.7 437.6" stroke="#000" stroke-width="1.6"/>
<path d="M344.7 437.6L351.7 464.1" stroke="#000" stroke-width="1.35"/>
<path d="M334.9 383.5L343.0 409.6" stroke="#000" stroke-width="1.6"/>
<path d="M343.0 409.6L351.0 435.8" stroke="#000" stroke-width="1.6"/>
<path d="M351.0 435.8L359.1 462.0" stroke="#000" stroke-width="1.35"/>
<path d="M320.7 330.5L329.7 356.3" stroke="#000" stroke-width="1.6"/>
<path d="M329.7 356.3L338.7 382.2" stroke="#000" stroke-width="1.6"/>
<path d="M338.7 382.2L347.8 408.1" stroke="#000" stroke-width="1.6"/>
<path d="M347.8 408.1L356.8 434.0" stroke="#000" stroke-width="1.6"/>
<path d="M356.8 434.0L365.8 459.8" stroke="#000" stroke-width="1.35"/>
<path d="M322.8 329.7L332.8 355.2" stroke="#000" stroke-width="1.6"/>
<path d="M332.8 355.2L342.9 380.7" stroke="#000" stroke-width="1.6"/>
<path d="M342.9 380.7L352.9 406.2" stroke="#000" stroke-width="1.6"/>
<path d="M352.9 406.2L363.0 431.7" stroke="#000" stroke-width="1.6"/>
<path d="M363.0 431.7L373.0 457.2" stroke="#000" stroke-width="1.35"/>
<path d="M324.8 328.8L335.9 353.9" stroke="#000" stroke-width="1.6"/>
<path d="M335.9 353.9L346.9 379.0" stroke="#000" stroke-width="1.6"/>
<path d="M346.9 379.0L358.0 404.0" stroke="#000" stroke-width="1.6"/>
<path d="M358.0 404.0L369.0 429.1" stroke="#000" stroke-width="1.6"/>
<path d="M369.0 429.1L380.1 454.2" stroke="#000" stroke-width="1.35"/>
<path d="M326.8 327.9L338.9 352.5" stroke="#000" stroke-width="1.6"/>
<path d="M338.9 352.5L350.9 377.1" stroke="#000" stroke-width="1.6"/>
<path d="M350.9 377.1L363.0 401.7" stroke="#000" stroke-width="1.6"/>
<path d="M363.0 401.7L375.0 426.3" stroke="#000" stroke-width="1.6"/>
<path d="M375.0 426.3L387.1 450.9" stroke="#000" stroke-width="1.35"/>
<path d="M328.8 326.9L341.8 351.0" stroke="#000" stroke-width="1.6"/>
<path d="M341.8 351.0L354.8 375.1" stroke="#000" stroke-width="1.6"/>
<path d="M354.8 375.1L367.9 399.2" stroke="#000" stroke-width="1.6"/>
<path d="M367.9 399.2L380.9 423.3" stroke="#000" stroke-width="1.6"/>
<path d="M380.9 423.3L393.9 447.4" stroke="#000" stroke-width="1.35"/>
<path d="M346.4 311.8L368.3 328.3" stroke="#000" stroke-width="1.6"/>
<path d="M356.0 341.3A82.2 82.2 0 0 0 376.5 315.0" stroke="#000" stroke-width="3.8" fill="none"/>
<path d="M356.0 341.3L373.8 362.1" stroke="#000" stroke-width="1.6"/>
<path d="M370.5 364.8A109.6 109.6 0 0 0 385.8 350.2" stroke="#000" stroke-width="3.2" fill="none"/>
<path d="M370.5 364.8L387.5 386.3" stroke="#000" stroke-width="1.6"/>
<path d="M378.9 392.5A137.0 137.0 0 0 0 397.5 377.6" stroke="#000" stroke-width="2.7" fill="none"/>
<path d="M378.9 392.5L394.2 415.3" stroke="#000" stroke-width="1.6"/>
<path d="M386.1 420.4A164.4 164.4 0 0 0 401.9 409.8" stroke="#000" stroke-width="2.0" fill="none"/>
<path d="M386.1 420.4L400.0 444.0" stroke="#000" stroke-width="1.35"/>
<path d="M391.5 417.0L406.3 440.1" stroke="#000" stroke-width="1.35"/>
<path d="M396.8 413.5L412.5 436.0" stroke="#000" stroke-width="1.35"/>
<path d="M401.9 409.8L418.5 431.6" stroke="#000" stroke-width="1.35"/>
<path d="M389.6 384.6L406.9 405.8" stroke="#000" stroke-width="1.6"/>
<path d="M406.9 405.8L424.3 427.0" stroke="#000" stroke-width="1.35"/>
<path d="M397.5 377.6L416.4 397.4" stroke="#000" stroke-width="1.6"/>
<path d="M411.8 401.7A164.4 164.4 0 0 0 420.9 392.9" stroke="#000" stroke-width="2.0" fill="none"/>
<path d="M411.8 401.7L429.9 422.2" stroke="#000" stroke-width="1.35"/>
<path d="M416.4 397.4L435.4 417.2" stroke="#000" stroke-width="1.35"/>
<path d="M420.9 392.9L440.6 412.0" stroke="#000" stroke-width="1.35"/>
<path d="M385.8 350.2L406.6 368.0" stroke="#000" stroke-width="1.6"/>
<path d="M406.6 368.0L427.3 385.9" stroke="#000" stroke-width="1.6"/>
<path d="M425.2 388.3A164.4 164.4 0 0 0 429.4 383.5" stroke="#000" stroke-width="2.0" fill="none"/>
<path d="M425.2 388.3L445.7 406.6" stroke="#000" stroke-width="1.35"/>
<path d="M429.4 383.5L450.5 401.0" stroke="#000" stroke-width="1.35"/>
<path d="M376.5 315.0L401.0 327.1" stroke="#000" stroke-width="1.6"/>
<path d="M393.8 339.6A109.6 109.6 0 0 0 408.2 308.3" stroke="#000" stroke-width="3.2" fill="none"/>
<path d="M393.8 339.6L416.6 354.8" stroke="#000" stroke-width="1.6"/>
<path d="M414.0 358.6A137.0 137.0 0 0 0 420.4 348.7" stroke="#000" stroke-width="2.7" fill="none"/>
<path d="M414.0 358.6L436.2 374.6" stroke="#000" stroke-width="1.6"/>
<path d="M432.8 379.2A164.4 164.4 0 0 0 439.5 369.9" stroke="#000" stroke-width="2.0" fill="none"/>
<path d="M432.8 379.2L454.5 396.0" stroke="#000" stroke-width="1.35"/>
<path d="M436.4 374.4L458.7 390.4" stroke="#000" stroke-width="1.35"/>
<path d="M439.5 369.9L462.3 385.1" stroke="#000" stroke-width="1.35"/>
<path d="M420.4 348.7L444.0 362.8" stroke="#000" stroke-width="1.6"/>
<path d="M442.6 365.1A164.4 164.4 0 0 0 445.4 360.4" stroke="#000" stroke-width="2.0" fill="none"/>
<path d="M442.6 365.1L465.9 379.5" stroke="#000" stroke-width="1.35"/>
<path d="M445.4 360.4L469.1 374.0" stroke="#000" stroke-width="1.35"/>
<path d="M403.4 322.0L428.6 332.8" stroke="#000" stroke-width="1.6"/>
<path d="M424.0 342.4A137.0 137.0 0 0 0 429.6 330.3" stroke="#000" stroke-width="2.7" fill="none"/>
<path d="M424.0 342.4L448.3 355.1" stroke="#000" stroke-width="1.6"/>
<path d="M429.6 330.3L455.0 340.7" stroke="#000" stroke-width="1.6"/>
<path d="M451.1 349.4A164.4 164.4 0 0 0 458.3 331.7" stroke="#000" stroke-width="2.0" fill="none"/>
<path d="M451.1 349.4L475.9 361.2" stroke="#000" stroke-width="1.35"/>
<path d="M453.7 343.6L478.9 354.4" stroke="#000" stroke-width="1.35"/>
<path d="M456.2 337.7L481.7 347.5" stroke="#000" stroke-width="1.35"/>
<path d="M458.3 331.7L484.3 340.5" stroke="#000" stroke-width="1.35"/>
<path d="M408.2 308.3L434.6 315.7" stroke="#000" stroke-width="1.6"/>
<path d="M434.6 315.7L461.0 323.0" stroke="#000" stroke-width="1.6"/>
<path d="M460.2 325.7A164.4 164.4 0 0 0 461.7 320.4" stroke="#000" stroke-width="2.0" fill="none"/>
<path d="M460.2 325.7L486.5 333.5" stroke="#000" stroke-width="1.35"/>
<path d="M461.7 320.4L488.2 327.4" stroke="#000" stroke-width="1.35"/>
<path d="M356.3 289.9L383.2 295.5" stroke="#000" stroke-width="1.6"/>
<path d="M383.2 295.5L410.0 301.1" stroke="#000" stroke-width="1.6"/>
<path d="M410.0 301.1L436.8 306.7" stroke="#000" stroke-width="1.6"/>
<path d="M436.8 306.7L463.6 312.3" stroke="#000" stroke-width="1.6"/>
<path d="M463.6 312.3L490.4 317.9" stroke="#000" stroke-width="1.35"/>
<path d="M357.2 284.6L384.4 287.5" stroke="#000" stroke-width="1.6"/>
<path d="M384.4 287.5L411.7 290.4" stroke="#000" stroke-width="1.6"/>
<path d="M411.0 295.3A109.6 109.6 0 0 0 412.1 285.6" stroke="#000" stroke-width="3.2" fill="none"/>
<path d="M411.0 295.3L438.1 299.4" stroke="#000" stroke-width="1.6"/>
<path d="M438.1 299.4L465.2 303.6" stroke="#000" stroke-width="1.6"/>
<path d="M465.2 303.6L492.3 307.7" stroke="#000" stroke-width="1.35"/>
<path d="M411.7 290.2L438.9 293.0" stroke="#000" stroke-width="1.6"/>
<path d="M438.9 293.0L466.2 295.9" stroke="#000" stroke-width="1.6"/>
<path d="M466.2 295.9L493.4 298.7" stroke="#000" stroke-width="1.35"/>
<path d="M412.1 285.6L439.4 287.3" stroke="#000" stroke-width="1.6"/>
<path d="M439.4 287.3L466.8 289.0" stroke="#000" stroke-width="1.6"/>
<path d="M466.8 289.0L494.1 290.7" stroke="#000" stroke-width="1.35"/>
<path d="M330.1 278.5L357.5 278.2" stroke="#000" stroke-width="1.6"/>
<path d="M357.5 278.2L384.9 278.0" stroke="#000" stroke-width="1.6"/>
<path d="M384.9 278.0L412.3 277.7" stroke="#000" stroke-width="1.6"/>
<path d="M412.3 277.7L439.7 277.5" stroke="#000" stroke-width="1.6"/>
<path d="M439.7 277.5L467.1 277.3" stroke="#000" stroke-width="1.6"/>
<path d="M467.1 277.3L494.5 277.0" stroke="#000" stroke-width="1.35"/></g>
<g fill="none" stroke-linecap="round"><path d="M326.3 229.3L338.2 204.5" stroke="#008000" stroke-width="4.2" fill="none"/>
<path d="M355.7 182.7L368.9 158.8L370.4 159.6" stroke="#008000" stroke-width="4.2" fill="none"/>
<path d="M392.2 175.0L410.1 154.3" stroke="#0000ff" stroke-width="4.2" fill="none"/>
<path d="M410.1 154.3L418.4 125.7" stroke="#0000ff" stroke-width="4.2"/>
<path d="M323.4 171.1L328.6 144.2" stroke="#ff0000" stroke-width="4.2" fill="none"/>
<path d="M328.6 144.2L333.8 117.3" stroke="#ff0000" stroke-width="4.2" fill="none"/>
<path d="M294.3 224.6L290.1 197.5" stroke="#ff0000" stroke-width="4.2" fill="none"/>
<path d="M290.1 197.5L285.8 170.4" stroke="#ff0000" stroke-width="4.2" fill="none"/>
<path d="M285.8 170.4L281.6 143.3" stroke="#ff0000" stroke-width="4.2" fill="none"/>
<path d="M140.5 251.8L113.5 247.4" stroke="#0000ff" stroke-width="4.2"/>
<path d="M414.0 358.6L436.2 374.6L436.4 374.4" stroke="#bf00bf" stroke-width="4.2" fill="none"/>
<path d="M408.2 308.3L434.6 315.7" stroke="#bf00bf" stroke-width="4.2" fill="none"/>
<path d="M434.6 315.7L461.0 323.0L461.7 320.4" stroke="#bf00bf" stroke-width="4.2" fill="none"/>
<path d="M357.2 284.6L384.4 287.5" stroke="#bf00bf" stroke-width="4.2" fill="none"/>
<path d="M384.4 287.5L411.7 290.4L411.7 290.2" stroke="#bf00bf" stroke-width="4.2" fill="none"/>
<path d="M411.7 290.2L438.9 293.0" stroke="#bf00bf" stroke-width="4.2" fill="none"/>
<path d="M438.9 293.0L466.2 295.9" stroke="#bf00bf" stroke-width="4.2" fill="none"/></g>
<circle cx="302.7" cy="278.7" r="1" fill="#c8c400"/>
<circle cx="494.1" cy="265.7" r="3.3" fill="#c8c400" stroke="#000" stroke-width="1.1"/>
<circle cx="493.5" cy="258.7" r="3.1" fill="#c8c400" stroke="#000" stroke-width="1.1"/>
<circle cx="492.6" cy="251.8" r="2.7" fill="#c8c400" stroke="#000" stroke-width="1.1"/>
<circle cx="491.5" cy="244.9" r="2.6" fill="#c8c400" stroke="#000" stroke-width="1.1"/>
<circle cx="490.1" cy="238.0" r="2.7" fill="#c8c400" stroke="#000" stroke-width="1.1"/>
<circle cx="488.5" cy="231.3" r="2.5" fill="#c8c400" stroke="#000" stroke-width="1.1"/>
<circle cx="484.6" cy="217.9" r="3.0" fill="#c8c400" stroke="#000" stroke-width="1.1"/>
<circle cx="482.3" cy="211.3" r="3.6" fill="#c8c400" stroke="#000" stroke-width="1.1"/>
<circle cx="479.7" cy="204.8" r="2.6" fill="#c8c400" stroke="#000" stroke-width="1.1"/>
<circle cx="473.9" cy="192.1" r="2.6" fill="#c8c400" stroke="#000" stroke-width="1.1"/>
<circle cx="470.6" cy="186.0" r="2.7" fill="#c8c400" stroke="#000" stroke-width="1.1"/>
<circle cx="467.1" cy="179.9" r="4.6" fill="#c8c400" stroke="#000" stroke-width="1.1"/>
<circle cx="463.2" cy="173.7" r="3.0" fill="#c8c400" stroke="#000" stroke-width="1.1"/>
<circle cx="459.3" cy="168.0" r="2.5" fill="#c8c400" stroke="#000" stroke-width="1.1"/>
<circle cx="455.2" cy="162.4" r="3.6" fill="#c8c400" stroke="#000" stroke-width="1.1"/>
<circle cx="451.0" cy="157.0" r="2.9" fill="#c8c400" stroke="#000" stroke-width="1.1"/>
<circle cx="446.5" cy="151.8" r="2.9" fill="#c8c400" stroke="#000" stroke-width="1.1"/>
<circle cx="441.8" cy="146.7" r="3.1" fill="#c8c400" stroke="#000" stroke-width="1.1"/>
<circle cx="437.1" cy="141.9" r="3.1" fill="#c8c400" stroke="#000" stroke-width="1.1"/>
<circle cx="434.0" cy="138.9" r="4.6" fill="#c8c400" stroke="#000" stroke-width="1.1"/>
<circle cx="430.8" cy="135.9" r="2.6" fill="#c8c400" stroke="#000" stroke-width="1.1"/>
<circle cx="427.5" cy="133.1" r="2.4" fill="#c8c400" stroke="#000" stroke-width="1.1"/>
<circle cx="424.2" cy="130.3" r="2.8" fill="#c8c400" stroke="#000" stroke-width="1.1"/>
<circle cx="418.4" cy="125.7" r="5.6" fill="#0000ff" stroke="#000" stroke-width="1.1"/>
<circle cx="413.8" cy="122.4" r="2.4" fill="#c8c400" stroke="#000" stroke-width="1.1"/>
<circle cx="410.2" cy="119.9" r="2.9" fill="#c8c400" stroke="#000" stroke-width="1.1"/>
<circle cx="408.3" cy="118.6" r="3.0" fill="#c8c400" stroke="#000" stroke-width="1.1"/>
<circle cx="402.1" cy="114.6" r="3.0" fill="#c8c400" stroke="#000" stroke-width="1.1"/>
<circle cx="397.1" cy="111.8" r="3.6" fill="#c8c400" stroke="#000" stroke-width="1.1"/>
<circle cx="392.7" cy="109.4" r="3.1" fill="#c8c400" stroke="#000" stroke-width="1.1"/>
<circle cx="388.6" cy="107.2" r="2.4" fill="#c8c400" stroke="#000" stroke-width="1.1"/>
<circle cx="386.2" cy="106.0" r="4.6" fill="#c8c400" stroke="#000" stroke-width="1.1"/>
<circle cx="383.8" cy="104.9" r="2.6" fill="#c8c400" stroke="#000" stroke-width="1.1"/>
<circle cx="381.3" cy="103.8" r="3.6" fill="#c8c400" stroke="#000" stroke-width="1.1"/>
<circle cx="378.9" cy="102.7" r="2.7" fill="#c8c400" stroke="#000" stroke-width="1.1"/>
<circle cx="376.4" cy="101.6" r="2.5" fill="#c8c400" stroke="#000" stroke-width="1.1"/>
<circle cx="373.9" cy="100.6" r="2.7" fill="#c8c400" stroke="#000" stroke-width="1.1"/>
<circle cx="367.0" cy="98.0" r="3.1" fill="#c8c400" stroke="#000" stroke-width="1.1"/>
<circle cx="360.1" cy="95.7" r="2.9" fill="#c8c400" stroke="#000" stroke-width="1.1"/>
<circle cx="353.6" cy="93.8" r="3.1" fill="#c8c400" stroke="#000" stroke-width="1.1"/>
<circle cx="340.6" cy="90.7" r="4.6" fill="#c8c400" stroke="#000" stroke-width="1.1"/>
<circle cx="337.3" cy="90.1" r="2.9" fill="#c8c400" stroke="#000" stroke-width="1.1"/>
<circle cx="331.4" cy="89.1" r="2.5" fill="#c8c400" stroke="#000" stroke-width="1.1"/>
<circle cx="324.7" cy="88.2" r="3.3" fill="#c8c400" stroke="#000" stroke-width="1.1"/>
<circle cx="317.4" cy="87.5" r="2.7" fill="#c8c400" stroke="#000" stroke-width="1.1"/>
<circle cx="309.7" cy="87.0" r="2.7" fill="#c8c400" stroke="#000" stroke-width="1.1"/>
<circle cx="302.0" cy="86.9" r="2.7" fill="#c8c400" stroke="#000" stroke-width="1.1"/>
<circle cx="294.3" cy="87.1" r="2.7" fill="#c8c400" stroke="#000" stroke-width="1.1"/>
<circle cx="286.7" cy="87.6" r="2.7" fill="#c8c400" stroke="#000" stroke-width="1.1"/>
<circle cx="279.7" cy="88.3" r="2.6" fill="#c8c400" stroke="#000" stroke-width="1.1"/>
<circle cx="276.7" cy="88.7" r="2.5" fill="#c8c400" stroke="#000" stroke-width="1.1"/>
<circle cx="269.4" cy="89.8" r="3.3" fill="#c8c400" stroke="#000" stroke-width="1.1"/>
<circle cx="266.8" cy="90.3" r="3.3" fill="#c8c400" stroke="#000" stroke-width="1.1"/>
<circle cx="262.5" cy="91.2" r="4.6" fill="#c8c400" stroke="#000" stroke-width="1.1"/>
<circle cx="255.7" cy="92.7" r="2.8" fill="#c8c400" stroke="#000" stroke-width="1.1"/>
<circle cx="249.1" cy="94.6" r="4.6" fill="#c8c400" stroke="#000" stroke-width="1.1"/>
<circle cx="242.4" cy="96.6" r="2.8" fill="#c8c400" stroke="#000" stroke-width="1.1"/>
<circle cx="235.9" cy="98.9" r="4.6" fill="#c8c400" stroke="#000" stroke-width="1.1"/>
<circle cx="229.4" cy="101.4" r="2.9" fill="#c8c400" stroke="#000" stroke-width="1.1"/>
<circle cx="223.1" cy="104.2" r="3.6" fill="#c8c400" stroke="#000" stroke-width="1.1"/>
<circle cx="216.8" cy="107.2" r="2.8" fill="#c8c400" stroke="#000" stroke-width="1.1"/>
<circle cx="210.3" cy="110.6" r="2.8" fill="#c8c400" stroke="#000" stroke-width="1.1"/>
<circle cx="201.6" cy="115.7" r="4.0" fill="#c8c400" stroke="#000" stroke-width="1.1"/>
<circle cx="196.0" cy="119.3" r="2.9" fill="#c8c400" stroke="#000" stroke-width="1.1"/>
<circle cx="190.8" cy="122.9" r="4.0" fill="#c8c400" stroke="#000" stroke-width="1.1"/>
<circle cx="185.4" cy="126.9" r="3.0" fill="#c8c400" stroke="#000" stroke-width="1.1"/>
<circle cx="180.2" cy="131.1" r="2.6" fill="#c8c400" stroke="#000" stroke-width="1.1"/>
<circle cx="175.1" cy="135.5" r="4.6" fill="#c8c400" stroke="#000" stroke-width="1.1"/>
<circle cx="170.4" cy="139.8" r="2.9" fill="#c8c400" stroke="#000" stroke-width="1.1"/>
<circle cx="165.7" cy="144.5" r="3.3" fill="#c8c400" stroke="#000" stroke-width="1.1"/>
<circle cx="160.6" cy="149.9" r="2.7" fill="#c8c400" stroke="#000" stroke-width="1.1"/>
<circle cx="155.8" cy="155.4" r="3.1" fill="#c8c400" stroke="#000" stroke-width="1.1"/>
<circle cx="151.1" cy="161.1" r="2.5" fill="#c8c400" stroke="#000" stroke-width="1.1"/>
<circle cx="146.7" cy="167.0" r="3.6" fill="#c8c400" stroke="#000" stroke-width="1.1"/>
<circle cx="142.6" cy="173.1" r="2.8" fill="#c8c400" stroke="#000" stroke-width="1.1"/>
<circle cx="138.6" cy="179.3" r="4.6" fill="#c8c400" stroke="#000" stroke-width="1.1"/>
<circle cx="134.3" cy="186.9" r="3.6" fill="#c8c400" stroke="#000" stroke-width="1.1"/>
<circle cx="130.9" cy="193.4" r="4.0" fill="#c8c400" stroke="#000" stroke-width="1.1"/>
<circle cx="128.0" cy="199.5" r="3.1" fill="#c8c400" stroke="#000" stroke-width="1.1"/>
<circle cx="125.4" cy="205.6" r="2.6" fill="#c8c400" stroke="#000" stroke-width="1.1"/>
<circle cx="122.9" cy="211.8" r="3.1" fill="#c8c400" stroke="#000" stroke-width="1.1"/>
<circle cx="119.9" cy="220.7" r="3.1" fill="#c8c400" stroke="#000" stroke-width="1.1"/>
<circle cx="117.8" cy="227.8" r="4.0" fill="#c8c400" stroke="#000" stroke-width="1.1"/>
<circle cx="116.2" cy="233.9" r="3.6" fill="#c8c400" stroke="#000" stroke-width="1.1"/>
<circle cx="114.8" cy="240.5" r="4.6" fill="#c8c400" stroke="#000" stroke-width="1.1"/>
<circle cx="113.5" cy="247.4" r="5.6" fill="#0000ff" stroke="#000" stroke-width="1.1"/>
<circle cx="112.5" cy="254.0" r="2.4" fill="#c8c400" stroke="#000" stroke-width="1.1"/>
<circle cx="111.8" cy="260.7" r="2.8" fill="#c8c400" stroke="#000" stroke-width="1.1"/>
<circle cx="111.2" cy="267.3" r="2.5" fill="#c8c400" stroke="#000" stroke-width="1.1"/>
<circle cx="111.0" cy="273.7" r="3.3" fill="#c8c400" stroke="#000" stroke-width="1.1"/>
<circle cx="110.9" cy="280.4" r="2.9" fill="#c8c400" stroke="#000" stroke-width="1.1"/>
<circle cx="111.0" cy="283.7" r="2.4" fill="#c8c400" stroke="#000" stroke-width="1.1"/>
<circle cx="111.1" cy="287.1" r="3.3" fill="#c8c400" stroke="#000" stroke-width="1.1"/>
<circle cx="111.3" cy="290.4" r="3.6" fill="#c8c400" stroke="#000" stroke-width="1.1"/>
<circle cx="111.5" cy="293.7" r="2.8" fill="#c8c400" stroke="#000" stroke-width="1.1"/>
<circle cx="112.1" cy="300.1" r="3.3" fill="#c8c400" stroke="#000" stroke-width="1.1"/>
<circle cx="112.9" cy="306.4" r="3.6" fill="#c8c400" stroke="#000" stroke-width="1.1"/>
<circle cx="113.9" cy="312.7" r="2.9" fill="#c8c400" stroke="#000" stroke-width="1.1"/>
<circle cx="115.2" cy="318.9" r="3.0" fill="#c8c400" stroke="#000" stroke-width="1.1"/>
<circle cx="116.6" cy="325.1" r="3.6" fill="#c8c400" stroke="#000" stroke-width="1.1"/>
<circle cx="118.0" cy="330.3" r="2.9" fill="#c8c400" stroke="#000" stroke-width="1.1"/>
<circle cx="118.8" cy="333.2" r="3.1" fill="#c8c400" stroke="#000" stroke-width="1.1"/>
<circle cx="119.7" cy="336.1" r="2.6" fill="#c8c400" stroke="#000" stroke-width="1.1"/>
<circle cx="120.6" cy="338.9" r="2.6" fill="#c8c400" stroke="#000" stroke-width="1.1"/>
<circle cx="122.5" cy="344.3" r="3.6" fill="#c8c400" stroke="#000" stroke-width="1.1"/>
<circle cx="124.7" cy="350.2" r="2.7" fill="#c8c400" stroke="#000" stroke-width="1.1"/>
<circle cx="127.1" cy="355.8" r="3.6" fill="#c8c400" stroke="#000" stroke-width="1.1"/>
<circle cx="129.4" cy="361.0" r="4.0" fill="#c8c400" stroke="#000" stroke-width="1.1"/>
<circle cx="130.8" cy="363.7" r="2.4" fill="#c8c400" stroke="#000" stroke-width="1.1"/>
<circle cx="132.1" cy="366.4" r="3.0" fill="#c8c400" stroke="#000" stroke-width="1.1"/>
<circle cx="133.5" cy="369.0" r="2.5" fill="#c8c400" stroke="#000" stroke-width="1.1"/>
<circle cx="135.9" cy="373.4" r="3.6" fill="#c8c400" stroke="#000" stroke-width="1.1"/>
<circle cx="138.3" cy="377.5" r="2.9" fill="#c8c400" stroke="#000" stroke-width="1.1"/>
<circle cx="143.3" cy="385.4" r="3.0" fill="#c8c400" stroke="#000" stroke-width="1.1"/>
<circle cx="148.1" cy="392.2" r="3.1" fill="#c8c400" stroke="#000" stroke-width="1.1"/>
<circle cx="151.6" cy="396.8" r="4.6" fill="#c8c400" stroke="#000" stroke-width="1.1"/>
<circle cx="155.8" cy="402.0" r="3.0" fill="#c8c400" stroke="#000" stroke-width="1.1"/>
<circle cx="159.7" cy="406.5" r="3.0" fill="#c8c400" stroke="#000" stroke-width="1.1"/>
<circle cx="164.3" cy="411.5" r="2.6" fill="#c8c400" stroke="#000" stroke-width="1.1"/>
<circle cx="169.0" cy="416.2" r="2.8" fill="#c8c400" stroke="#000" stroke-width="1.1"/>
<circle cx="172.2" cy="419.3" r="4.6" fill="#c8c400" stroke="#000" stroke-width="1.1"/>
<circle cx="175.5" cy="422.3" r="2.8" fill="#c8c400" stroke="#000" stroke-width="1.1"/>
<circle cx="178.9" cy="425.2" r="3.1" fill="#c8c400" stroke="#000" stroke-width="1.1"/>
<circle cx="184.1" cy="429.4" r="2.4" fill="#c8c400" stroke="#000" stroke-width="1.1"/>
<circle cx="189.4" cy="433.5" r="2.8" fill="#c8c400" stroke="#000" stroke-width="1.1"/>
<circle cx="194.9" cy="437.3" r="3.1" fill="#c8c400" stroke="#000" stroke-width="1.1"/>
<circle cx="200.5" cy="441.0" r="2.6" fill="#c8c400" stroke="#000" stroke-width="1.1"/>
<circle cx="206.2" cy="444.5" r="2.5" fill="#c8c400" stroke="#000" stroke-width="1.1"/>
<circle cx="211.5" cy="447.4" r="3.1" fill="#c8c400" stroke="#000" stroke-width="1.1"/>
<circle cx="216.8" cy="450.2" r="2.4" fill="#c8c400" stroke="#000" stroke-width="1.1"/>
<circle cx="220.4" cy="452.0" r="2.6" fill="#c8c400" stroke="#000" stroke-width="1.1"/>
<circle cx="225.3" cy="454.2" r="2.4" fill="#c8c400" stroke="#000" stroke-width="1.1"/>
<circle cx="231.5" cy="456.8" r="2.7" fill="#c8c400" stroke="#000" stroke-width="1.1"/>
<circle cx="238.4" cy="459.4" r="2.4" fill="#c8c400" stroke="#000" stroke-width="1.1"/>
<circle cx="244.7" cy="461.5" r="2.6" fill="#c8c400" stroke="#000" stroke-width="1.1"/>
<circle cx="251.1" cy="463.4" r="3.1" fill="#c8c400" stroke="#000" stroke-width="1.1"/>
<circle cx="258.3" cy="465.3" r="3.1" fill="#c8c400" stroke="#000" stroke-width="1.1"/>
<circle cx="264.1" cy="466.6" r="4.6" fill="#c8c400" stroke="#000" stroke-width="1.1"/>
<circle cx="270.4" cy="467.8" r="2.6" fill="#c8c400" stroke="#000" stroke-width="1.1"/>
<circle cx="276.7" cy="468.7" r="2.8" fill="#c8c400" stroke="#000" stroke-width="1.1"/>
<circle cx="282.7" cy="469.4" r="2.9" fill="#c8c400" stroke="#000" stroke-width="1.1"/>
<circle cx="289.0" cy="470.0" r="2.4" fill="#c8c400" stroke="#000" stroke-width="1.1"/>
<circle cx="295.3" cy="470.4" r="3.3" fill="#c8c400" stroke="#000" stroke-width="1.1"/>
<circle cx="301.7" cy="470.5" r="4.0" fill="#c8c400" stroke="#000" stroke-width="1.1"/>
<circle cx="308.1" cy="470.4" r="3.0" fill="#c8c400" stroke="#000" stroke-width="1.1"/>
<circle cx="314.7" cy="470.1" r="4.6" fill="#c8c400" stroke="#000" stroke-width="1.1"/>
<circle cx="321.4" cy="469.6" r="4.0" fill="#c8c400" stroke="#000" stroke-width="1.1"/>
<circle cx="328.1" cy="468.8" r="3.0" fill="#c8c400" stroke="#000" stroke-width="1.1"/>
<circle cx="336.7" cy="467.5" r="3.1" fill="#c8c400" stroke="#000" stroke-width="1.1"/>
<circle cx="344.2" cy="466.0" r="4.6" fill="#c8c400" stroke="#000" stroke-width="1.1"/>
<circle cx="351.7" cy="464.1" r="3.1" fill="#c8c400" stroke="#000" stroke-width="1.1"/>
<circle cx="359.1" cy="462.0" r="3.3" fill="#c8c400" stroke="#000" stroke-width="1.1"/>
<circle cx="365.8" cy="459.8" r="2.7" fill="#c8c400" stroke="#000" stroke-width="1.1"/>
<circle cx="373.0" cy="457.2" r="2.7" fill="#c8c400" stroke="#000" stroke-width="1.1"/>
<circle cx="380.1" cy="454.2" r="2.7" fill="#c8c400" stroke="#000" stroke-width="1.1"/>
<circle cx="387.1" cy="450.9" r="2.7" fill="#c8c400" stroke="#000" stroke-width="1.1"/>
<circle cx="393.9" cy="447.4" r="2.7" fill="#c8c400" stroke="#000" stroke-width="1.1"/>
<circle cx="400.0" cy="444.0" r="2.7" fill="#c8c400" stroke="#000" stroke-width="1.1"/>
<circle cx="406.3" cy="440.1" r="3.1" fill="#c8c400" stroke="#000" stroke-width="1.1"/>
<circle cx="412.5" cy="436.0" r="2.6" fill="#c8c400" stroke="#000" stroke-width="1.1"/>
<circle cx="418.5" cy="431.6" r="2.4" fill="#c8c400" stroke="#000" stroke-width="1.1"/>
<circle cx="424.3" cy="427.0" r="4.0" fill="#c8c400" stroke="#000" stroke-width="1.1"/>
<circle cx="429.9" cy="422.2" r="3.3" fill="#c8c400" stroke="#000" stroke-width="1.1"/>
<circle cx="435.4" cy="417.2" r="2.7" fill="#c8c400" stroke="#000" stroke-width="1.1"/>
<circle cx="440.6" cy="412.0" r="3.1" fill="#c8c400" stroke="#000" stroke-width="1.1"/>
<circle cx="445.7" cy="406.6" r="2.4" fill="#c8c400" stroke="#000" stroke-width="1.1"/>
<circle cx="450.5" cy="401.0" r="3.0" fill="#c8c400" stroke="#000" stroke-width="1.1"/>
<circle cx="454.5" cy="396.0" r="2.6" fill="#c8c400" stroke="#000" stroke-width="1.1"/>
<circle cx="458.7" cy="390.4" r="3.0" fill="#c8c400" stroke="#000" stroke-width="1.1"/>
<circle cx="462.3" cy="385.1" r="2.7" fill="#c8c400" stroke="#000" stroke-width="1.1"/>
<circle cx="465.9" cy="379.5" r="4.0" fill="#c8c400" stroke="#000" stroke-width="1.1"/>
<circle cx="469.1" cy="374.0" r="2.7" fill="#c8c400" stroke="#000" stroke-width="1.1"/>
<circle cx="475.9" cy="361.2" r="3.6" fill="#c8c400" stroke="#000" stroke-width="1.1"/>
<circle cx="478.9" cy="354.4" r="3.0" fill="#c8c400" stroke="#000" stroke-width="1.1"/>
<circle cx="481.7" cy="347.5" r="4.6" fill="#c8c400" stroke="#000" stroke-width="1.1"/>
<circle cx="484.3" cy="340.5" r="4.0" fill="#c8c400" stroke="#000" stroke-width="1.1"/>
<circle cx="486.5" cy="333.5" r="4.0" fill="#c8c400" stroke="#000" stroke-width="1.1"/>
<circle cx="488.2" cy="327.4" r="3.0" fill="#c8c400" stroke="#000" stroke-width="1.1"/>
<circle cx="490.4" cy="317.9" r="2.7" fill="#c8c400" stroke="#000" stroke-width="1.1"/>
<circle cx="492.3" cy="307.7" r="2.7" fill="#c8c400" stroke="#000" stroke-width="1.1"/>
<circle cx="493.4" cy="298.7" r="2.7" fill="#c8c400" stroke="#000" stroke-width="1.1"/>
<circle cx="494.1" cy="290.7" r="2.7" fill="#c8c400" stroke="#000" stroke-width="1.1"/>
<circle cx="494.5" cy="277.0" r="2.7" fill="#c8c400" stroke="#000" stroke-width="1.1"/>
<circle cx="466.7" cy="267.5" r="3.5" fill="#c8c400" stroke="#000" stroke-width="1.1"/>
<circle cx="466.2" cy="261.6" r="2.5" fill="#c8c400" stroke="#000" stroke-width="1.1"/>
<circle cx="465.5" cy="255.6" r="3.6" fill="#c8c400" stroke="#000" stroke-width="1.1"/>
<circle cx="464.5" cy="249.7" r="3.4" fill="#c8c400" stroke="#000" stroke-width="1.1"/>
<circle cx="463.4" cy="243.9" r="3.1" fill="#c8c400" stroke="#000" stroke-width="1.1"/>
<circle cx="462.0" cy="238.0" r="3.0" fill="#c8c400" stroke="#000" stroke-width="1.1"/>
<circle cx="460.4" cy="232.3" r="2.5" fill="#c8c400" stroke="#000" stroke-width="1.1"/>
<circle cx="458.6" cy="226.6" r="2.8" fill="#c8c400" stroke="#000" stroke-width="1.1"/>
<circle cx="456.6" cy="220.9" r="2.6" fill="#c8c400" stroke="#000" stroke-width="1.1"/>
<circle cx="454.4" cy="215.4" r="3.1" fill="#c8c400" stroke="#000" stroke-width="1.1"/>
<circle cx="452.0" cy="209.9" r="3.7" fill="#c8c400" stroke="#000" stroke-width="1.1"/>
<circle cx="449.4" cy="204.5" r="2.7" fill="#c8c400" stroke="#000" stroke-width="1.1"/>
<circle cx="446.6" cy="199.2" r="2.8" fill="#c8c400" stroke="#000" stroke-width="1.1"/>
<circle cx="443.6" cy="194.0" r="2.7" fill="#c8c400" stroke="#000" stroke-width="1.1"/>
<circle cx="440.3" cy="188.7" r="2.5" fill="#c8c400" stroke="#000" stroke-width="1.1"/>
<circle cx="436.9" cy="183.8" r="2.6" fill="#c8c400" stroke="#000" stroke-width="1.1"/>
<circle cx="433.4" cy="179.0" r="3.3" fill="#c8c400" stroke="#000" stroke-width="1.1"/>
<circle cx="429.8" cy="174.4" r="3.4" fill="#c8c400" stroke="#000" stroke-width="1.1"/>
<circle cx="425.9" cy="169.9" r="2.5" fill="#c8c400" stroke="#000" stroke-width="1.1"/>
<circle cx="422.0" cy="165.5" r="2.9" fill="#c8c400" stroke="#000" stroke-width="1.1"/>
<circle cx="410.1" cy="154.3" r="6.7" fill="#0000ff" stroke="#000" stroke-width="1.1"/>
<circle cx="397.9" cy="144.7" r="3.9" fill="#c8c400" stroke="#000" stroke-width="1.1"/>
<circle cx="394.0" cy="142.0" r="4.4" fill="#c8c400" stroke="#000" stroke-width="1.1"/>
<circle cx="391.3" cy="140.2" r="2.5" fill="#c8c400" stroke="#000" stroke-width="1.1"/>
<circle cx="387.9" cy="138.1" r="6.7" fill="#008000" stroke="#000" stroke-width="1.1"/>
<circle cx="383.7" cy="135.6" r="2.9" fill="#c8c400" stroke="#000" stroke-width="1.1"/>
<circle cx="379.9" cy="133.5" r="3.7" fill="#c8c400" stroke="#000" stroke-width="1.1"/>
<circle cx="370.1" cy="128.7" r="6.7" fill="#008000" stroke="#000" stroke-width="1.1"/>
<circle cx="357.8" cy="123.8" r="3.8" fill="#c8c400" stroke="#000" stroke-width="1.1"/>
<circle cx="351.9" cy="121.8" r="2.9" fill="#c8c400" stroke="#000" stroke-width="1.1"/>
<circle cx="346.4" cy="120.2" r="2.8" fill="#c8c400" stroke="#000" stroke-width="1.1"/>
<circle cx="340.5" cy="118.7" r="2.6" fill="#c8c400" stroke="#000" stroke-width="1.1"/>
<circle cx="333.8" cy="117.3" r="6.7" fill="#ff0000" stroke="#000" stroke-width="1.1"/>
<circle cx="327.3" cy="116.1" r="3.8" fill="#c8c400" stroke="#000" stroke-width="1.1"/>
<circle cx="321.6" cy="115.4" r="2.7" fill="#c8c400" stroke="#000" stroke-width="1.1"/>
<circle cx="315.3" cy="114.8" r="2.5" fill="#c8c400" stroke="#000" stroke-width="1.1"/>
<circle cx="308.7" cy="114.4" r="2.6" fill="#c8c400" stroke="#000" stroke-width="1.1"/>
<circle cx="302.1" cy="114.3" r="2.8" fill="#c8c400" stroke="#000" stroke-width="1.1"/>
<circle cx="295.5" cy="114.5" r="2.7" fill="#c8c400" stroke="#000" stroke-width="1.1"/>
<circle cx="288.9" cy="114.9" r="3.0" fill="#c8c400" stroke="#000" stroke-width="1.1"/>
<circle cx="281.7" cy="115.7" r="6.7" fill="#ff0000" stroke="#000" stroke-width="1.1"/>
<circle cx="273.0" cy="117.0" r="3.8" fill="#c8c400" stroke="#000" stroke-width="1.1"/>
<circle cx="268.2" cy="118.0" r="3.6" fill="#c8c400" stroke="#000" stroke-width="1.1"/>
<circle cx="262.5" cy="119.3" r="2.5" fill="#c8c400" stroke="#000" stroke-width="1.1"/>
<circle cx="256.7" cy="120.9" r="2.9" fill="#c8c400" stroke="#000" stroke-width="1.1"/>
<circle cx="251.0" cy="122.6" r="3.7" fill="#c8c400" stroke="#000" stroke-width="1.1"/>
<circle cx="245.4" cy="124.6" r="3.6" fill="#c8c400" stroke="#000" stroke-width="1.1"/>
<circle cx="239.9" cy="126.8" r="3.8" fill="#c8c400" stroke="#000" stroke-width="1.1"/>
<circle cx="234.4" cy="129.1" r="3.4" fill="#c8c400" stroke="#000" stroke-width="1.1"/>
<circle cx="229.1" cy="131.7" r="3.1" fill="#c8c400" stroke="#000" stroke-width="1.1"/>
<circle cx="223.5" cy="134.6" r="2.8" fill="#c8c400" stroke="#000" stroke-width="1.1"/>
<circle cx="216.1" cy="139.0" r="3.6" fill="#c8c400" stroke="#000" stroke-width="1.1"/>
<circle cx="211.2" cy="142.1" r="3.4" fill="#c8c400" stroke="#000" stroke-width="1.1"/>
<circle cx="206.8" cy="145.2" r="2.9" fill="#c8c400" stroke="#000" stroke-width="1.1"/>
<circle cx="202.2" cy="148.6" r="2.9" fill="#c8c400" stroke="#000" stroke-width="1.1"/>
<circle cx="197.7" cy="152.2" r="2.9" fill="#c8c400" stroke="#000" stroke-width="1.1"/>
<circle cx="193.3" cy="156.0" r="3.7" fill="#c8c400" stroke="#000" stroke-width="1.1"/>
<circle cx="189.3" cy="159.6" r="3.1" fill="#c8c400" stroke="#000" stroke-width="1.1"/>
<circle cx="185.2" cy="163.7" r="3.8" fill="#c8c400" stroke="#000" stroke-width="1.1"/>
<circle cx="180.9" cy="168.3" r="3.9" fill="#c8c400" stroke="#000" stroke-width="1.1"/>
<circle cx="176.8" cy="173.0" r="3.7" fill="#c8c400" stroke="#000" stroke-width="1.1"/>
<circle cx="172.8" cy="177.9" r="2.8" fill="#c8c400" stroke="#000" stroke-width="1.1"/>
<circle cx="169.0" cy="183.0" r="2.7" fill="#c8c400" stroke="#000" stroke-width="1.1"/>
<circle cx="165.5" cy="188.2" r="3.8" fill="#c8c400" stroke="#000" stroke-width="1.1"/>
<circle cx="162.1" cy="193.5" r="3.4" fill="#c8c400" stroke="#000" stroke-width="1.1"/>
<circle cx="158.4" cy="200.0" r="2.7" fill="#c8c400" stroke="#000" stroke-width="1.1"/>
<circle cx="155.4" cy="205.6" r="2.7" fill="#c8c400" stroke="#000" stroke-width="1.1"/>
<circle cx="153.0" cy="210.8" r="3.5" fill="#c8c400" stroke="#000" stroke-width="1.1"/>
<circle cx="150.7" cy="216.1" r="2.6" fill="#c8c400" stroke="#000" stroke-width="1.1"/>
<circle cx="148.6" cy="221.4" r="3.8" fill="#c8c400" stroke="#000" stroke-width="1.1"/>
<circle cx="146.0" cy="229.0" r="2.5" fill="#c8c400" stroke="#000" stroke-width="1.1"/>
<circle cx="144.2" cy="235.0" r="2.9" fill="#c8c400" stroke="#000" stroke-width="1.1"/>
<circle cx="142.8" cy="240.3" r="3.3" fill="#c8c400" stroke="#000" stroke-width="1.1"/>
<circle cx="141.6" cy="245.9" r="2.7" fill="#c8c400" stroke="#000" stroke-width="1.1"/>
<circle cx="140.5" cy="251.8" r="6.7" fill="#0000ff" stroke="#000" stroke-width="1.1"/>
<circle cx="139.7" cy="257.5" r="3.8" fill="#c8c400" stroke="#000" stroke-width="1.1"/>
<circle cx="139.0" cy="263.2" r="2.9" fill="#c8c400" stroke="#000" stroke-width="1.1"/>
<circle cx="138.6" cy="269.0" r="3.7" fill="#c8c400" stroke="#000" stroke-width="1.1"/>
<circle cx="138.4" cy="274.4" r="3.4" fill="#c8c400" stroke="#000" stroke-width="1.1"/>
<circle cx="138.5" cy="285.9" r="6.7" fill="#008000" stroke="#000" stroke-width="1.1"/>
<circle cx="139.3" cy="297.0" r="2.5" fill="#c8c400" stroke="#000" stroke-width="1.1"/>
<circle cx="140.0" cy="302.4" r="3.2" fill="#c8c400" stroke="#000" stroke-width="1.1"/>
<circle cx="140.9" cy="307.8" r="2.8" fill="#c8c400" stroke="#000" stroke-width="1.1"/>
<circle cx="142.0" cy="313.2" r="3.6" fill="#c8c400" stroke="#000" stroke-width="1.1"/>
<circle cx="143.2" cy="318.5" r="3.0" fill="#c8c400" stroke="#000" stroke-width="1.1"/>
<circle cx="145.4" cy="326.6" r="4.7" fill="#c8c400" stroke="#000" stroke-width="1.1"/>
<circle cx="148.2" cy="334.9" r="3.3" fill="#c8c400" stroke="#000" stroke-width="1.1"/>
<circle cx="150.2" cy="340.0" r="3.1" fill="#c8c400" stroke="#000" stroke-width="1.1"/>
<circle cx="152.2" cy="344.8" r="3.8" fill="#c8c400" stroke="#000" stroke-width="1.1"/>
<circle cx="155.9" cy="352.7" r="3.9" fill="#c8c400" stroke="#000" stroke-width="1.1"/>
<circle cx="159.8" cy="359.9" r="2.9" fill="#c8c400" stroke="#000" stroke-width="1.1"/>
<circle cx="161.8" cy="363.4" r="3.2" fill="#c8c400" stroke="#000" stroke-width="1.1"/>
<circle cx="166.1" cy="370.2" r="3.0" fill="#c8c400" stroke="#000" stroke-width="1.1"/>
<circle cx="170.2" cy="376.0" r="3.9" fill="#c8c400" stroke="#000" stroke-width="1.1"/>
<circle cx="174.9" cy="382.2" r="3.5" fill="#c8c400" stroke="#000" stroke-width="1.1"/>
<circle cx="180.1" cy="388.3" r="6.7" fill="#ff0000" stroke="#000" stroke-width="1.1"/>
<circle cx="184.0" cy="392.5" r="3.8" fill="#c8c400" stroke="#000" stroke-width="1.1"/>
<circle cx="192.3" cy="400.5" r="4.6" fill="#c8c400" stroke="#000" stroke-width="1.1"/>
<circle cx="201.0" cy="407.9" r="2.8" fill="#c8c400" stroke="#000" stroke-width="1.1"/>
<circle cx="207.9" cy="413.0" r="3.5" fill="#c8c400" stroke="#000" stroke-width="1.1"/>
<circle cx="215.1" cy="417.8" r="3.8" fill="#c8c400" stroke="#000" stroke-width="1.1"/>
<circle cx="220.0" cy="420.8" r="3.1" fill="#c8c400" stroke="#000" stroke-width="1.1"/>
<circle cx="224.5" cy="423.3" r="3.4" fill="#c8c400" stroke="#000" stroke-width="1.1"/>
<circle cx="230.6" cy="426.5" r="3.4" fill="#c8c400" stroke="#000" stroke-width="1.1"/>
<circle cx="236.4" cy="429.1" r="3.6" fill="#c8c400" stroke="#000" stroke-width="1.1"/>
<circle cx="241.6" cy="431.3" r="3.2" fill="#c8c400" stroke="#000" stroke-width="1.1"/>
<circle cx="247.6" cy="433.6" r="3.8" fill="#c8c400" stroke="#000" stroke-width="1.1"/>
<circle cx="253.0" cy="435.4" r="2.8" fill="#c8c400" stroke="#000" stroke-width="1.1"/>
<circle cx="258.5" cy="437.0" r="2.8" fill="#c8c400" stroke="#000" stroke-width="1.1"/>
<circle cx="264.6" cy="438.6" r="3.3" fill="#c8c400" stroke="#000" stroke-width="1.1"/>
<circle cx="269.6" cy="439.7" r="3.7" fill="#c8c400" stroke="#000" stroke-width="1.1"/>
<circle cx="275.0" cy="440.7" r="2.5" fill="#c8c400" stroke="#000" stroke-width="1.1"/>
<circle cx="280.4" cy="441.6" r="2.9" fill="#c8c400" stroke="#000" stroke-width="1.1"/>
<circle cx="285.5" cy="442.2" r="2.5" fill="#c8c400" stroke="#000" stroke-width="1.1"/>
<circle cx="290.9" cy="442.7" r="3.3" fill="#c8c400" stroke="#000" stroke-width="1.1"/>
<circle cx="296.4" cy="443.0" r="2.5" fill="#c8c400" stroke="#000" stroke-width="1.1"/>
<circle cx="301.8" cy="443.1" r="3.8" fill="#c8c400" stroke="#000" stroke-width="1.1"/>
<circle cx="307.3" cy="443.0" r="2.5" fill="#c8c400" stroke="#000" stroke-width="1.1"/>
<circle cx="313.0" cy="442.8" r="3.3" fill="#c8c400" stroke="#000" stroke-width="1.1"/>
<circle cx="318.7" cy="442.3" r="3.5" fill="#c8c400" stroke="#000" stroke-width="1.1"/>
<circle cx="324.4" cy="441.7" r="3.7" fill="#c8c400" stroke="#000" stroke-width="1.1"/>
<circle cx="331.8" cy="440.5" r="3.7" fill="#c8c400" stroke="#000" stroke-width="1.1"/>
<circle cx="338.3" cy="439.2" r="3.7" fill="#c8c400" stroke="#000" stroke-width="1.1"/>
<circle cx="344.7" cy="437.6" r="3.4" fill="#c8c400" stroke="#000" stroke-width="1.1"/>
<circle cx="351.0" cy="435.8" r="3.1" fill="#c8c400" stroke="#000" stroke-width="1.1"/>
<circle cx="356.8" cy="434.0" r="2.4" fill="#c8c400" stroke="#000" stroke-width="1.1"/>
<circle cx="363.0" cy="431.7" r="2.5" fill="#c8c400" stroke="#000" stroke-width="1.1"/>
<circle cx="369.0" cy="429.1" r="2.8" fill="#c8c400" stroke="#000" stroke-width="1.1"/>
<circle cx="375.0" cy="426.3" r="2.7" fill="#c8c400" stroke="#000" stroke-width="1.1"/>
<circle cx="380.9" cy="423.3" r="2.6" fill="#c8c400" stroke="#000" stroke-width="1.1"/>
<circle cx="386.1" cy="420.4" r="3.9" fill="#c8c400" stroke="#000" stroke-width="1.1"/>
<circle cx="391.5" cy="417.0" r="3.7" fill="#c8c400" stroke="#000" stroke-width="1.1"/>
<circle cx="396.8" cy="413.5" r="3.5" fill="#c8c400" stroke="#000" stroke-width="1.1"/>
<circle cx="401.9" cy="409.8" r="2.6" fill="#c8c400" stroke="#000" stroke-width="1.1"/>
<circle cx="406.9" cy="405.8" r="2.5" fill="#c8c400" stroke="#000" stroke-width="1.1"/>
<circle cx="411.8" cy="401.7" r="3.7" fill="#c8c400" stroke="#000" stroke-width="1.1"/>
<circle cx="416.4" cy="397.4" r="3.3" fill="#c8c400" stroke="#000" stroke-width="1.1"/>
<circle cx="420.9" cy="392.9" r="3.0" fill="#c8c400" stroke="#000" stroke-width="1.1"/>
<circle cx="425.2" cy="388.3" r="3.6" fill="#c8c400" stroke="#000" stroke-width="1.1"/>
<circle cx="429.4" cy="383.5" r="3.2" fill="#c8c400" stroke="#000" stroke-width="1.1"/>
<circle cx="432.8" cy="379.2" r="2.5" fill="#c8c400" stroke="#000" stroke-width="1.1"/>
<circle cx="436.4" cy="374.4" r="6.7" fill="#bf00bf" stroke="#000" stroke-width="1.1"/>
<circle cx="439.5" cy="369.9" r="3.4" fill="#c8c400" stroke="#000" stroke-width="1.1"/>
<circle cx="442.6" cy="365.1" r="2.5" fill="#c8c400" stroke="#000" stroke-width="1.1"/>
<circle cx="445.4" cy="360.4" r="3.1" fill="#c8c400" stroke="#000" stroke-width="1.1"/>
<circle cx="448.3" cy="355.1" r="2.9" fill="#c8c400" stroke="#000" stroke-width="1.1"/>
<circle cx="451.1" cy="349.4" r="2.9" fill="#c8c400" stroke="#000" stroke-width="1.1"/>
<circle cx="453.7" cy="343.6" r="3.5" fill="#c8c400" stroke="#000" stroke-width="1.1"/>
<circle cx="456.2" cy="337.7" r="3.0" fill="#c8c400" stroke="#000" stroke-width="1.1"/>
<circle cx="458.3" cy="331.7" r="3.6" fill="#c8c400" stroke="#000" stroke-width="1.1"/>
<circle cx="460.2" cy="325.7" r="2.8" fill="#c8c400" stroke="#000" stroke-width="1.1"/>
<circle cx="461.7" cy="320.4" r="6.7" fill="#bf00bf" stroke="#000" stroke-width="1.1"/>
<circle cx="463.6" cy="312.3" r="2.5" fill="#c8c400" stroke="#000" stroke-width="1.1"/>
<circle cx="465.2" cy="303.6" r="2.9" fill="#c8c400" stroke="#000" stroke-width="1.1"/>
<circle cx="466.2" cy="295.9" r="6.7" fill="#bf00bf" stroke="#000" stroke-width="1.1"/>
<circle cx="466.8" cy="289.0" r="2.9" fill="#c8c400" stroke="#000" stroke-width="1.1"/>
<circle cx="467.1" cy="277.3" r="2.8" fill="#c8c400" stroke="#000" stroke-width="1.1"/>
<circle cx="438.7" cy="261.9" r="5.2" fill="#c8c400" stroke="#000" stroke-width="1.1"/>
<circle cx="436.0" cy="247.2" r="3.2" fill="#c8c400" stroke="#000" stroke-width="1.1"/>
<circle cx="434.1" cy="240.0" r="3.3" fill="#c8c400" stroke="#000" stroke-width="1.1"/>
<circle cx="432.6" cy="235.2" r="2.7" fill="#c8c400" stroke="#000" stroke-width="1.1"/>
<circle cx="430.1" cy="228.2" r="4.2" fill="#c8c400" stroke="#000" stroke-width="1.1"/>
<circle cx="427.1" cy="221.4" r="2.5" fill="#c8c400" stroke="#000" stroke-width="1.1"/>
<circle cx="425.0" cy="216.9" r="2.7" fill="#c8c400" stroke="#000" stroke-width="1.1"/>
<circle cx="422.6" cy="212.5" r="3.7" fill="#c8c400" stroke="#000" stroke-width="1.1"/>
<circle cx="420.1" cy="208.1" r="3.4" fill="#c8c400" stroke="#000" stroke-width="1.1"/>
<circle cx="417.3" cy="203.7" r="3.0" fill="#c8c400" stroke="#000" stroke-width="1.1"/>
<circle cx="414.6" cy="199.6" r="2.6" fill="#c8c400" stroke="#000" stroke-width="1.1"/>
<circle cx="408.6" cy="191.8" r="4.7" fill="#c8c400" stroke="#000" stroke-width="1.1"/>
<circle cx="402.1" cy="184.4" r="3.1" fill="#c8c400" stroke="#000" stroke-width="1.1"/>
<circle cx="392.2" cy="175.0" r="6.7" fill="#0000ff" stroke="#000" stroke-width="1.1"/>
<circle cx="379.3" cy="165.1" r="6.7" fill="#008000" stroke="#000" stroke-width="1.1"/>
<circle cx="370.4" cy="159.6" r="6.7" fill="#008000" stroke="#000" stroke-width="1.1"/>
<circle cx="354.0" cy="151.7" r="6.7" fill="#008000" stroke="#000" stroke-width="1.1"/>
<circle cx="336.7" cy="146.0" r="4.4" fill="#c8c400" stroke="#000" stroke-width="1.1"/>
<circle cx="328.6" cy="144.2" r="6.7" fill="#ff0000" stroke="#000" stroke-width="1.1"/>
<circle cx="320.8" cy="142.9" r="3.1" fill="#c8c400" stroke="#000" stroke-width="1.1"/>
<circle cx="313.2" cy="142.1" r="2.5" fill="#c8c400" stroke="#000" stroke-width="1.1"/>
<circle cx="307.7" cy="141.8" r="2.8" fill="#c8c400" stroke="#000" stroke-width="1.1"/>
<circle cx="302.2" cy="141.7" r="2.8" fill="#c8c400" stroke="#000" stroke-width="1.1"/>
<circle cx="296.7" cy="141.8" r="2.9" fill="#c8c400" stroke="#000" stroke-width="1.1"/>
<circle cx="291.2" cy="142.2" r="2.7" fill="#c8c400" stroke="#000" stroke-width="1.1"/>
<circle cx="281.6" cy="143.3" r="6.7" fill="#ff0000" stroke="#000" stroke-width="1.1"/>
<circle cx="274.0" cy="144.7" r="3.6" fill="#c8c400" stroke="#000" stroke-width="1.1"/>
<circle cx="266.8" cy="146.5" r="3.9" fill="#c8c400" stroke="#000" stroke-width="1.1"/>
<circle cx="257.3" cy="149.4" r="4.0" fill="#c8c400" stroke="#000" stroke-width="1.1"/>
<circle cx="248.1" cy="153.1" r="4.1" fill="#c8c400" stroke="#000" stroke-width="1.1"/>
<circle cx="241.4" cy="156.2" r="3.7" fill="#c8c400" stroke="#000" stroke-width="1.1"/>
<circle cx="236.7" cy="158.6" r="2.9" fill="#c8c400" stroke="#000" stroke-width="1.1"/>
<circle cx="217.0" cy="171.8" r="6.7" fill="#0000ff" stroke="#000" stroke-width="1.1"/>
<circle cx="197.8" cy="190.6" r="3.6" fill="#c8c400" stroke="#000" stroke-width="1.1"/>
<circle cx="191.3" cy="198.9" r="3.5" fill="#c8c400" stroke="#000" stroke-width="1.1"/>
<circle cx="188.3" cy="203.3" r="3.2" fill="#c8c400" stroke="#000" stroke-width="1.1"/>
<circle cx="185.5" cy="207.7" r="3.6" fill="#c8c400" stroke="#000" stroke-width="1.1"/>
<circle cx="182.4" cy="213.1" r="3.9" fill="#c8c400" stroke="#000" stroke-width="1.1"/>
<circle cx="180.0" cy="217.8" r="3.4" fill="#c8c400" stroke="#000" stroke-width="1.1"/>
<circle cx="177.9" cy="222.1" r="2.7" fill="#c8c400" stroke="#000" stroke-width="1.1"/>
<circle cx="176.0" cy="226.5" r="3.9" fill="#c8c400" stroke="#000" stroke-width="1.1"/>
<circle cx="174.3" cy="230.9" r="2.6" fill="#c8c400" stroke="#000" stroke-width="1.1"/>
<circle cx="172.1" cy="237.3" r="2.7" fill="#c8c400" stroke="#000" stroke-width="1.1"/>
<circle cx="167.0" cy="297.3" r="6.7" fill="#008000" stroke="#000" stroke-width="1.1"/>
<circle cx="188.9" cy="354.9" r="3.7" fill="#c8c400" stroke="#000" stroke-width="1.1"/>
<circle cx="211.1" cy="380.6" r="6.7" fill="#ff0000" stroke="#000" stroke-width="1.1"/>
<circle cx="242.4" cy="401.7" r="6.7" fill="#ff0000" stroke="#000" stroke-width="1.1"/>
<circle cx="254.3" cy="406.9" r="3.7" fill="#c8c400" stroke="#000" stroke-width="1.1"/>
<circle cx="261.3" cy="409.3" r="2.8" fill="#c8c400" stroke="#000" stroke-width="1.1"/>
<circle cx="268.4" cy="411.3" r="4.1" fill="#c8c400" stroke="#000" stroke-width="1.1"/>
<circle cx="275.2" cy="412.9" r="3.2" fill="#c8c400" stroke="#000" stroke-width="1.1"/>
<circle cx="279.6" cy="413.7" r="3.7" fill="#c8c400" stroke="#000" stroke-width="1.1"/>
<circle cx="284.1" cy="414.4" r="3.2" fill="#c8c400" stroke="#000" stroke-width="1.1"/>
<circle cx="288.4" cy="414.9" r="3.5" fill="#c8c400" stroke="#000" stroke-width="1.1"/>
<circle cx="295.2" cy="415.5" r="4.1" fill="#c8c400" stroke="#000" stroke-width="1.1"/>
<circle cx="302.0" cy="415.7" r="3.1" fill="#c8c400" stroke="#000" stroke-width="1.1"/>
<circle cx="311.3" cy="415.4" r="4.3" fill="#c8c400" stroke="#000" stroke-width="1.1"/>
<circle cx="320.8" cy="414.5" r="3.4" fill="#c8c400" stroke="#000" stroke-width="1.1"/>
<circle cx="327.0" cy="413.5" r="3.5" fill="#c8c400" stroke="#000" stroke-width="1.1"/>
<circle cx="332.4" cy="412.5" r="2.5" fill="#c8c400" stroke="#000" stroke-width="1.1"/>
<circle cx="337.7" cy="411.2" r="3.3" fill="#c8c400" stroke="#000" stroke-width="1.1"/>
<circle cx="343.0" cy="409.6" r="2.6" fill="#c8c400" stroke="#000" stroke-width="1.1"/>
<circle cx="347.8" cy="408.1" r="2.6" fill="#c8c400" stroke="#000" stroke-width="1.1"/>
<circle cx="352.9" cy="406.2" r="2.8" fill="#c8c400" stroke="#000" stroke-width="1.1"/>
<circle cx="358.0" cy="404.0" r="2.5" fill="#c8c400" stroke="#000" stroke-width="1.1"/>
<circle cx="363.0" cy="401.7" r="2.6" fill="#c8c400" stroke="#000" stroke-width="1.1"/>
<circle cx="367.9" cy="399.2" r="2.7" fill="#c8c400" stroke="#000" stroke-width="1.1"/>
<circle cx="378.9" cy="392.5" r="4.2" fill="#c8c400" stroke="#000" stroke-width="1.1"/>
<circle cx="389.6" cy="384.6" r="3.4" fill="#c8c400" stroke="#000" stroke-width="1.1"/>
<circle cx="397.5" cy="377.6" r="3.5" fill="#c8c400" stroke="#000" stroke-width="1.1"/>
<circle cx="406.6" cy="368.0" r="3.5" fill="#c8c400" stroke="#000" stroke-width="1.1"/>
<circle cx="414.0" cy="358.6" r="6.7" fill="#bf00bf" stroke="#000" stroke-width="1.1"/>
<circle cx="420.4" cy="348.7" r="4.1" fill="#c8c400" stroke="#000" stroke-width="1.1"/>
<circle cx="424.0" cy="342.4" r="3.3" fill="#c8c400" stroke="#000" stroke-width="1.1"/>
<circle cx="429.6" cy="330.3" r="4.1" fill="#c8c400" stroke="#000" stroke-width="1.1"/>
<circle cx="434.6" cy="315.7" r="6.7" fill="#bf00bf" stroke="#000" stroke-width="1.1"/>
<circle cx="436.8" cy="306.7" r="2.4" fill="#c8c400" stroke="#000" stroke-width="1.1"/>
<circle cx="438.1" cy="299.4" r="2.4" fill="#c8c400" stroke="#000" stroke-width="1.1"/>
<circle cx="438.9" cy="293.0" r="6.7" fill="#bf00bf" stroke="#000" stroke-width="1.1"/>
<circle cx="439.4" cy="287.3" r="2.8" fill="#c8c400" stroke="#000" stroke-width="1.1"/>
<circle cx="439.7" cy="277.5" r="2.6" fill="#c8c400" stroke="#000" stroke-width="1.1"/>
<circle cx="410.2" cy="257.4" r="5.7" fill="#c8c400" stroke="#000" stroke-width="1.1"/>
<circle cx="402.2" cy="232.8" r="4.2" fill="#c8c400" stroke="#000" stroke-width="1.1"/>
<circle cx="396.6" cy="222.3" r="3.2" fill="#c8c400" stroke="#000" stroke-width="1.1"/>
<circle cx="393.3" cy="217.0" r="4.5" fill="#c8c400" stroke="#000" stroke-width="1.1"/>
<circle cx="387.4" cy="209.2" r="3.9" fill="#c8c400" stroke="#000" stroke-width="1.1"/>
<circle cx="382.2" cy="203.3" r="3.6" fill="#c8c400" stroke="#000" stroke-width="1.1"/>
<circle cx="355.7" cy="182.7" r="6.7" fill="#008000" stroke="#000" stroke-width="1.1"/>
<circle cx="323.4" cy="171.1" r="6.7" fill="#ff0000" stroke="#000" stroke-width="1.1"/>
<circle cx="317.2" cy="170.1" r="4.3" fill="#c8c400" stroke="#000" stroke-width="1.1"/>
<circle cx="311.1" cy="169.4" r="2.6" fill="#c8c400" stroke="#000" stroke-width="1.1"/>
<circle cx="306.7" cy="169.2" r="3.0" fill="#c8c400" stroke="#000" stroke-width="1.1"/>
<circle cx="302.3" cy="169.1" r="2.9" fill="#c8c400" stroke="#000" stroke-width="1.1"/>
<circle cx="297.9" cy="169.2" r="2.7" fill="#c8c400" stroke="#000" stroke-width="1.1"/>
<circle cx="293.5" cy="169.5" r="2.5" fill="#c8c400" stroke="#000" stroke-width="1.1"/>
<circle cx="285.8" cy="170.4" r="6.7" fill="#ff0000" stroke="#000" stroke-width="1.1"/>
<circle cx="266.4" cy="175.3" r="5.1" fill="#c8c400" stroke="#000" stroke-width="1.1"/>
<circle cx="231.5" cy="195.4" r="6.7" fill="#0000ff" stroke="#000" stroke-width="1.1"/>
<circle cx="212.4" cy="216.6" r="4.1" fill="#c8c400" stroke="#000" stroke-width="1.1"/>
<circle cx="209.0" cy="221.9" r="3.3" fill="#c8c400" stroke="#000" stroke-width="1.1"/>
<circle cx="206.5" cy="226.2" r="6.7" fill="#0000ff" stroke="#000" stroke-width="1.1"/>
<circle cx="202.1" cy="235.2" r="4.4" fill="#c8c400" stroke="#000" stroke-width="1.1"/>
<circle cx="193.8" cy="291.5" r="6.7" fill="#008000" stroke="#000" stroke-width="1.1"/>
<circle cx="211.6" cy="339.7" r="3.3" fill="#c8c400" stroke="#000" stroke-width="1.1"/>
<circle cx="245.1" cy="371.9" r="6.7" fill="#ff0000" stroke="#000" stroke-width="1.1"/>
<circle cx="289.5" cy="387.5" r="3.5" fill="#c8c400" stroke="#000" stroke-width="1.1"/>
<circle cx="306.0" cy="388.2" r="4.9" fill="#c8c400" stroke="#000" stroke-width="1.1"/>
<circle cx="322.1" cy="386.6" r="3.4" fill="#c8c400" stroke="#000" stroke-width="1.1"/>
<circle cx="326.4" cy="385.7" r="3.6" fill="#c8c400" stroke="#000" stroke-width="1.1"/>
<circle cx="330.7" cy="384.7" r="3.6" fill="#c8c400" stroke="#000" stroke-width="1.1"/>
<circle cx="334.9" cy="383.5" r="3.8" fill="#c8c400" stroke="#000" stroke-width="1.1"/>
<circle cx="338.7" cy="382.2" r="2.4" fill="#c8c400" stroke="#000" stroke-width="1.1"/>
<circle cx="342.9" cy="380.7" r="2.5" fill="#c8c400" stroke="#000" stroke-width="1.1"/>
<circle cx="346.9" cy="379.0" r="2.9" fill="#c8c400" stroke="#000" stroke-width="1.1"/>
<circle cx="350.9" cy="377.1" r="2.5" fill="#c8c400" stroke="#000" stroke-width="1.1"/>
<circle cx="354.8" cy="375.1" r="2.7" fill="#c8c400" stroke="#000" stroke-width="1.1"/>
<circle cx="370.5" cy="364.8" r="5.8" fill="#c8c400" stroke="#000" stroke-width="1.1"/>
<circle cx="385.8" cy="350.2" r="3.7" fill="#c8c400" stroke="#000" stroke-width="1.1"/>
<circle cx="393.8" cy="339.6" r="6.7" fill="#bf00bf" stroke="#000" stroke-width="1.1"/>
<circle cx="403.4" cy="322.0" r="4.2" fill="#c8c400" stroke="#000" stroke-width="1.1"/>
<circle cx="408.2" cy="308.3" r="6.7" fill="#bf00bf" stroke="#000" stroke-width="1.1"/>
<circle cx="410.0" cy="301.1" r="2.5" fill="#c8c400" stroke="#000" stroke-width="1.1"/>
<circle cx="411.0" cy="295.3" r="2.7" fill="#c8c400" stroke="#000" stroke-width="1.1"/>
<circle cx="411.7" cy="290.2" r="6.7" fill="#bf00bf" stroke="#000" stroke-width="1.1"/>
<circle cx="412.1" cy="285.6" r="2.7" fill="#c8c400" stroke="#000" stroke-width="1.1"/>
<circle cx="412.3" cy="277.7" r="2.4" fill="#c8c400" stroke="#000" stroke-width="1.1"/>
<circle cx="381.1" cy="254.1" r="6.4" fill="#c8c400" stroke="#000" stroke-width="1.1"/>
<circle cx="367.2" cy="227.7" r="5.1" fill="#c8c400" stroke="#000" stroke-width="1.1"/>
<circle cx="338.2" cy="204.5" r="6.7" fill="#008000" stroke="#000" stroke-width="1.1"/>
<circle cx="309.0" cy="196.7" r="3.0" fill="#c8c400" stroke="#000" stroke-width="1.1"/>
<circle cx="305.7" cy="196.6" r="2.4" fill="#c8c400" stroke="#000" stroke-width="1.1"/>
<circle cx="302.4" cy="196.5" r="2.4" fill="#c8c400" stroke="#000" stroke-width="1.1"/>
<circle cx="299.1" cy="196.6" r="2.9" fill="#c8c400" stroke="#000" stroke-width="1.1"/>
<circle cx="295.8" cy="196.8" r="2.7" fill="#c8c400" stroke="#000" stroke-width="1.1"/>
<circle cx="290.1" cy="197.5" r="6.7" fill="#ff0000" stroke="#000" stroke-width="1.1"/>
<circle cx="256.3" cy="210.8" r="6.4" fill="#c8c400" stroke="#000" stroke-width="1.1"/>
<circle cx="233.9" cy="323.7" r="6.7" fill="#ff0000" stroke="#000" stroke-width="1.1"/>
<circle cx="322.1" cy="358.6" r="5.1" fill="#c8c400" stroke="#000" stroke-width="1.1"/>
<circle cx="329.7" cy="356.3" r="2.7" fill="#c8c400" stroke="#000" stroke-width="1.1"/>
<circle cx="332.8" cy="355.2" r="2.6" fill="#c8c400" stroke="#000" stroke-width="1.1"/>
<circle cx="335.9" cy="353.9" r="2.5" fill="#c8c400" stroke="#000" stroke-width="1.1"/>
<circle cx="338.9" cy="352.5" r="2.8" fill="#c8c400" stroke="#000" stroke-width="1.1"/>
<circle cx="341.8" cy="351.0" r="2.5" fill="#c8c400" stroke="#000" stroke-width="1.1"/>
<circle cx="356.0" cy="341.3" r="5.7" fill="#c8c400" stroke="#000" stroke-width="1.1"/>
<circle cx="376.5" cy="315.0" r="6.7" fill="#bf00bf" stroke="#000" stroke-width="1.1"/>
<circle cx="383.2" cy="295.5" r="3.0" fill="#c8c400" stroke="#000" stroke-width="1.1"/>
<circle cx="384.4" cy="287.5" r="6.7" fill="#bf00bf" stroke="#000" stroke-width="1.1"/>
<circle cx="384.9" cy="278.0" r="2.5" fill="#c8c400" stroke="#000" stroke-width="1.1"/>
<circle cx="352.9" cy="256.7" r="6.4" fill="#c8c400" stroke="#000" stroke-width="1.1"/>
<circle cx="326.3" cy="229.3" r="6.7" fill="#008000" stroke="#000" stroke-width="1.1"/>
<circle cx="306.9" cy="224.1" r="3.0" fill="#c8c400" stroke="#000" stroke-width="1.1"/>
<circle cx="304.7" cy="223.9" r="2.7" fill="#c8c400" stroke="#000" stroke-width="1.1"/>
<circle cx="302.5" cy="223.9" r="2.4" fill="#c8c400" stroke="#000" stroke-width="1.1"/>
<circle cx="300.3" cy="224.0" r="2.7" fill="#c8c400" stroke="#000" stroke-width="1.1"/>
<circle cx="298.1" cy="224.1" r="2.6" fill="#c8c400" stroke="#000" stroke-width="1.1"/>
<circle cx="294.3" cy="224.6" r="6.7" fill="#ff0000" stroke="#000" stroke-width="1.1"/>
<circle cx="249.7" cy="292.5" r="6.7" fill="#ff0000" stroke="#000" stroke-width="1.1"/>
<circle cx="320.7" cy="330.5" r="3.0" fill="#c8c400" stroke="#000" stroke-width="1.1"/>
<circle cx="322.8" cy="329.7" r="2.7" fill="#c8c400" stroke="#000" stroke-width="1.1"/>
<circle cx="324.8" cy="328.8" r="2.8" fill="#c8c400" stroke="#000" stroke-width="1.1"/>
<circle cx="326.8" cy="327.9" r="2.4" fill="#c8c400" stroke="#000" stroke-width="1.1"/>
<circle cx="328.8" cy="326.9" r="2.4" fill="#c8c400" stroke="#000" stroke-width="1.1"/>
<circle cx="346.4" cy="311.8" r="6.7" fill="#bf00bf" stroke="#000" stroke-width="1.1"/>
<circle cx="356.3" cy="289.9" r="2.6" fill="#c8c400" stroke="#000" stroke-width="1.1"/>
<circle cx="357.2" cy="284.6" r="6.7" fill="#bf00bf" stroke="#000" stroke-width="1.1"/>
<circle cx="357.5" cy="278.2" r="2.5" fill="#c8c400" stroke="#000" stroke-width="1.1"/>
<circle cx="275.3" cy="278.8" r="7.6" fill="#c8c400" stroke="#000" stroke-width="1.1"/>
<circle cx="330.1" cy="278.5" r="2.6" fill="#c8c400" stroke="#000" stroke-width="1.1"/>
<text x="411.8" y="50.4" transform="rotate(25.5 411.8 50.4)" class="pl" fill="#1a4a1a">p__Bacteroidota</text>
<text x="263.8" y="28.7" transform="rotate(-8.8 263.8 28.7)" class="pl" fill="#5e1020">p__Desulfobacterota</text>
<text x="68.2" y="340.6" transform="rotate(-104.8 68.2 340.6)" class="pl" fill="#5e1020">p__Firmicutes</text>
<text x="505.3" y="431.9" transform="rotate(127.1 505.3 431.9)" class="pl" fill="#c000c0">p__Proteobacteria</text>
<text x="556.7" y="310.8" transform="rotate(97.2 556.7 310.8)" class="pl" fill="#c000c0">p__Verrucomicrobiota</text>
<text x="404.9" y="64.9" transform="rotate(25.5 404.9 64.9)" class="cl" fill="#1a4a1a">h</text>
<text x="266.2" y="44.5" transform="rotate(-8.8 266.2 44.5)" class="cl" fill="#5e1020">k</text>
<text x="104.4" y="408.5" transform="rotate(-123.2 104.4 408.5)" class="cl" fill="#5e1020">t</text>
<text x="515.4" y="383.3" transform="rotate(-243.8 515.4 383.3)" class="cl" fill="#c000c0">y</text>
<text x="537.8" y="308.4" transform="rotate(97.2 537.8 308.4)" class="cl" fill="#c000c0">a1</text>
<text x="408.5" y="87.0" transform="rotate(28.9 408.5 87.0)" class="cl" fill="#1a4a1a">e</text>
<text x="344.1" y="63.7" transform="rotate(10.9 344.1 63.7)" class="cl" fill="#5e1020">g</text>
<text x="269.0" y="62.3" transform="rotate(-8.8 269.0 62.3)" class="cl" fill="#5e1020">j</text>
<text x="160.5" y="112.2" transform="rotate(-40.5 160.5 112.2)" class="cl" fill="#20208a">m</text>
<text x="110.4" y="173.9" transform="rotate(-61.4 110.4 173.9)" class="cl" fill="#20208a">n</text>
<text x="85.2" y="304.3" transform="rotate(-96.7 85.2 304.3)" class="cl" fill="#1a4a1a">p</text>
<text x="187.6" y="465.0" transform="rotate(-148.3 187.6 465.0)" class="cl" fill="#5e1020">s</text>
<text x="484.8" y="400.4" transform="rotate(-236.2 484.8 400.4)" class="cl" fill="#c000c0">v</text>
<text x="513.6" y="337.8" transform="rotate(-254.4 513.6 337.8)" class="cl" fill="#c000c0">x</text>
<text x="520.5" y="301.6" transform="rotate(-264.0 520.5 301.6)" class="cl" fill="#c000c0">a0</text>
<text x="434.4" y="126.2" transform="rotate(40.8 434.4 126.2)" class="cl" fill="#20208a">a</text>
<text x="415.4" y="111.6" transform="rotate(34.0 415.4 111.6)" class="cl" fill="#1a4a1a">b</text>
<text x="402.2" y="103.5" transform="rotate(29.6 402.2 103.5)" class="cl" fill="#1a4a1a">c</text>
<text x="378.2" y="91.9" transform="rotate(22.0 378.2 91.9)" class="cl" fill="#1a4a1a">d</text>
<text x="340.8" y="80.8" transform="rotate(10.9 340.8 80.8)" class="cl" fill="#5e1020">f</text>
<text x="271.7" y="79.6" transform="rotate(-8.8 271.7 79.6)" class="cl" fill="#5e1020">i</text>
<text x="176.7" y="121.4" transform="rotate(-38.7 176.7 121.4)" class="cl" fill="#20208a">l</text>
<text x="103.1" y="306.0" transform="rotate(-97.8 103.1 306.0)" class="cl" fill="#1a4a1a">o</text>
<text x="168.0" y="428.6" transform="rotate(-138.1 168.0 428.6)" class="cl" fill="#5e1020">q</text>
<text x="214.1" y="459.7" transform="rotate(-153.9 214.1 459.7)" class="cl" fill="#5e1020">r</text>
<text x="466.3" y="396.3" transform="rotate(-234.3 466.3 396.3)" class="cl" fill="#c000c0">u</text>
<text x="496.7" y="333.1" transform="rotate(-254.4 496.7 333.1)" class="cl" fill="#c000c0">w</text>
<text x="503.1" y="299.8" transform="rotate(-264.0 503.1 299.8)" class="cl" fill="#c000c0">z</text>
</g>
<text x="5.5" y="38.3" class="lt" font-size="49">A</text>
<rect x="45.2" y="22.5" width="41.3" height="14.2" fill="#ff0000"/>
<text x="103.8" y="36.7" class="dv" font-size="19.5">HC</text>
<rect x="45.2" y="53.0" width="41.3" height="14.2" fill="#008000"/>
<text x="103.8" y="67.2" class="dv" font-size="19.5">HIDF</text>
<rect x="45.2" y="83.5" width="41.3" height="14.2" fill="#0000ff"/>
<text x="103.8" y="97.7" class="dv" font-size="19.5">LIDF</text>
<rect x="45.2" y="114.0" width="41.3" height="14.2" fill="#bf00bf"/>
<text x="103.8" y="128.2" class="dv" font-size="19.5">NC</text>
<rect x="594.6" y="8.6" width="25.4" height="8.8" fill="#0000ff" stroke="#000" stroke-width="1.4"/>
<text x="629.8" y="17.4" class="dv" font-size="12.4">a: f__Bacteroidaceae</text>
<rect x="594.6" y="27.2" width="25.4" height="8.8" fill="#008000" stroke="#000" stroke-width="1.4"/>
<text x="629.8" y="36.0" class="dv" font-size="12.4">b: f__Muribaculaceae</text>
<rect x="594.6" y="45.8" width="25.4" height="8.8" fill="#008000" stroke="#000" stroke-width="1.4"/>
<text x="629.8" y="54.6" class="dv" font-size="12.4">c: f__Prevotellaceae</text>
<rect x="594.6" y="64.5" width="25.4" height="8.8" fill="#008000" stroke="#000" stroke-width="1.4"/>
<text x="629.8" y="73.3" class="dv" font-size="12.4">d: f__Rikenellaceae</text>
<rect x="594.6" y="83.1" width="25.4" height="8.8" fill="#008000" stroke="#000" stroke-width="1.4"/>
<text x="629.8" y="91.9" class="dv" font-size="12.4">e: o__Bacteroidales</text>
<rect x="594.6" y="101.7" width="25.4" height="8.8" fill="#ff0000" stroke="#000" stroke-width="1.4"/>
<text x="629.8" y="110.5" class="dv" font-size="12.4">f: f__Weeksellaceae</text>
<rect x="594.6" y="120.3" width="25.4" height="8.8" fill="#ff0000" stroke="#000" stroke-width="1.4"/>
<text x="629.8" y="129.1" class="dv" font-size="12.4">g: o__Flavobacteriales</text>
<rect x="594.6" y="138.9" width="25.4" height="8.8" fill="#008000" stroke="#000" stroke-width="1.4"/>
<text x="629.8" y="147.7" class="dv" font-size="12.4">h: c__Bacteroidia</text>
<rect x="594.6" y="157.6" width="25.4" height="8.8" fill="#ff0000" stroke="#000" stroke-width="1.4"/>
<text x="629.8" y="166.4" class="dv" font-size="12.4">i: f__Desulfovibrionaceae</text>
<rect x="594.6" y="176.2" width="25.4" height="8.8" fill="#ff0000" stroke="#000" stroke-width="1.4"/>
<text x="629.8" y="185.0" class="dv" font-size="12.4">j: o__Desulfovibrionales</text>
<rect x="594.6" y="194.8" width="25.4" height="8.8" fill="#ff0000" stroke="#000" stroke-width="1.4"/>
<text x="629.8" y="203.6" class="dv" font-size="12.4">k: c__Desulfovibrionia</text>
<rect x="594.6" y="213.4" width="25.4" height="8.8" fill="#0000ff" stroke="#000" stroke-width="1.4"/>
<text x="629.8" y="222.2" class="dv" font-size="12.4">l: f__Lactobacillaceae</text>
<rect x="594.6" y="232.0" width="25.4" height="8.8" fill="#0000ff" stroke="#000" stroke-width="1.4"/>
<text x="629.8" y="240.8" class="dv" font-size="12.4">m: o__Lactobacillales</text>
<rect x="594.6" y="250.7" width="25.4" height="8.8" fill="#0000ff" stroke="#000" stroke-width="1.4"/>
<text x="629.8" y="259.5" class="dv" font-size="12.4">n: o__Clostridia_UCG_014</text>
<rect x="594.6" y="269.3" width="25.4" height="8.8" fill="#008000" stroke="#000" stroke-width="1.4"/>
<text x="629.8" y="278.1" class="dv" font-size="12.4">o: f__Lachnospiraceae</text>
<rect x="594.6" y="287.9" width="25.4" height="8.8" fill="#008000" stroke="#000" stroke-width="1.4"/>
<text x="629.8" y="296.7" class="dv" font-size="12.4">p: o__Lachnospirales</text>
<rect x="594.6" y="306.5" width="25.4" height="8.8" fill="#ff0000" stroke="#000" stroke-width="1.4"/>
<text x="629.8" y="315.3" class="dv" font-size="12.4">q: f__Oscillospiraceae</text>
<rect x="594.6" y="325.1" width="25.4" height="8.8" fill="#ff0000" stroke="#000" stroke-width="1.4"/>
<text x="629.8" y="333.9" class="dv" font-size="12.4">r: f__Ruminococcaceae</text>
<rect x="594.6" y="343.8" width="25.4" height="8.8" fill="#ff0000" stroke="#000" stroke-width="1.4"/>
<text x="629.8" y="352.6" class="dv" font-size="12.4">s: o__Oscillospirales</text>
<rect x="594.6" y="362.4" width="25.4" height="8.8" fill="#ff0000" stroke="#000" stroke-width="1.4"/>
<text x="629.8" y="371.2" class="dv" font-size="12.4">t: c__Clostridia</text>
<rect x="594.6" y="381.0" width="25.4" height="8.8" fill="#bf00bf" stroke="#000" stroke-width="1.4"/>
<text x="629.8" y="389.8" class="dv" font-size="12.4">u: f__Comamonadaceae</text>
<rect x="594.6" y="399.6" width="25.4" height="8.8" fill="#bf00bf" stroke="#000" stroke-width="1.4"/>
<text x="629.8" y="408.4" class="dv" font-size="12.4">v: o__Burkholderiales</text>
<rect x="594.6" y="418.2" width="25.4" height="8.8" fill="#bf00bf" stroke="#000" stroke-width="1.4"/>
<text x="629.8" y="427.0" class="dv" font-size="12.4">w: f__Xanthomonadaceae</text>
<rect x="594.6" y="436.9" width="25.4" height="8.8" fill="#bf00bf" stroke="#000" stroke-width="1.4"/>
<text x="629.8" y="445.7" class="dv" font-size="12.4">x: o__Xanthomonadales</text>
<rect x="594.6" y="455.5" width="25.4" height="8.8" fill="#bf00bf" stroke="#000" stroke-width="1.4"/>
<text x="629.8" y="464.3" class="dv" font-size="12.4">y: c__Gammaproteobacteria</text>
<rect x="594.6" y="474.1" width="25.4" height="8.8" fill="#bf00bf" stroke="#000" stroke-width="1.4"/>
<text x="629.8" y="482.9" class="dv" font-size="12.4">z: f__Akkermansiaceae</text>
<rect x="594.6" y="492.7" width="25.4" height="8.8" fill="#bf00bf" stroke="#000" stroke-width="1.4"/>
<text x="629.8" y="501.5" class="dv" font-size="12.4">a0: o__Verrucomicrobiales</text>
<rect x="594.6" y="511.3" width="25.4" height="8.8" fill="#bf00bf" stroke="#000" stroke-width="1.4"/>
<text x="629.8" y="520.1" class="dv" font-size="12.4">a1: c__Verrucomicrobiae</text>
<text x="905" y="44" class="lt" font-size="51">B</text>
<rect x="1106.7" y="14" width="30.2" height="10.5" fill="#ff0000" stroke="#000" stroke-width="1.2"/>
<text x="1148.9" y="24" class="dv" font-size="14.3">HC</text>
<rect x="1199.4" y="14" width="30.0" height="10.5" fill="#008000" stroke="#000" stroke-width="1.2"/>
<text x="1241.9" y="24" class="dv" font-size="14.3">HIDF</text>
<rect x="1306.3" y="14" width="30.2" height="10.5" fill="#0000ff" stroke="#000" stroke-width="1.2"/>
<text x="1348.8" y="24" class="dv" font-size="14.3">LIDF</text>
<rect x="1410.5" y="14" width="30.0" height="10.5" fill="#bf00bf" stroke="#000" stroke-width="1.2"/>
<text x="1452.7" y="24" class="dv" font-size="14.3">NC</text>
<rect x="1101.0" y="65.4" width="427.5" height="14.7" fill="#bf00bf"/>
<path d="M1101.0 65.4H1528.5V80.1H1101.0" fill="none" stroke="#000" stroke-width="1.8"/>
<text x="1090" y="78.3" class="dv" font-size="10.4" text-anchor="end">c__Gammaproteobacteria</text>
<rect x="1101.0" y="85.6" width="427.5" height="14.7" fill="#bf00bf"/>
<path d="M1101.0 85.6H1528.5V100.3H1101.0" fill="none" stroke="#000" stroke-width="1.8"/>
<text x="1090" y="98.6" class="dv" font-size="10.4" text-anchor="end">p__Proteobacteria</text>
<rect x="1101.0" y="105.9" width="425.8" height="14.7" fill="#bf00bf"/>
<path d="M1101.0 105.9H1526.8V120.6H1101.0" fill="none" stroke="#000" stroke-width="1.8"/>
<text x="1090" y="118.8" class="dv" font-size="10.4" text-anchor="end">f__Xanthomonadaceae</text>
<rect x="1101.0" y="126.1" width="425.8" height="14.7" fill="#bf00bf"/>
<path d="M1101.0 126.1H1526.8V140.8H1101.0" fill="none" stroke="#000" stroke-width="1.8"/>
<text x="1090" y="139.1" class="dv" font-size="10.4" text-anchor="end">o__Xanthomonadales</text>
<rect x="1101.0" y="146.4" width="425.8" height="14.7" fill="#bf00bf"/>
<path d="M1101.0 146.4H1526.8V161.1H1101.0" fill="none" stroke="#000" stroke-width="1.8"/>
<text x="1090" y="159.3" class="dv" font-size="10.4" text-anchor="end">g__Stenotrophomonas</text>
<rect x="1101.0" y="166.6" width="386.7" height="14.7" fill="#bf00bf"/>
<path d="M1101.0 166.6H1487.7V181.3H1101.0" fill="none" stroke="#000" stroke-width="1.8"/>
<text x="1090" y="179.5" class="dv" font-size="10.4" text-anchor="end">c__Verrucomicrobiae</text>
<rect x="1101.0" y="186.8" width="386.7" height="14.7" fill="#bf00bf"/>
<path d="M1101.0 186.8H1487.7V201.5H1101.0" fill="none" stroke="#000" stroke-width="1.8"/>
<text x="1090" y="199.8" class="dv" font-size="10.4" text-anchor="end">p__Verrucomicrobiota</text>
<rect x="1101.0" y="207.1" width="386.7" height="14.7" fill="#bf00bf"/>
<path d="M1101.0 207.1H1487.7V221.8H1101.0" fill="none" stroke="#000" stroke-width="1.8"/>
<text x="1090" y="220.0" class="dv" font-size="10.4" text-anchor="end">g__Akkermansia</text>
<rect x="1101.0" y="227.3" width="386.7" height="14.7" fill="#bf00bf"/>
<path d="M1101.0 227.3H1487.7V242.0H1101.0" fill="none" stroke="#000" stroke-width="1.8"/>
<text x="1090" y="240.3" class="dv" font-size="10.4" text-anchor="end">f__Akkermansiaceae</text>
<rect x="1101.0" y="247.6" width="386.7" height="14.7" fill="#bf00bf"/>
<path d="M1101.0 247.6H1487.7V262.3H1101.0" fill="none" stroke="#000" stroke-width="1.8"/>
<text x="1090" y="260.5" class="dv" font-size="10.4" text-anchor="end">o__Verrucomicrobiales</text>
<rect x="1101.0" y="267.8" width="321.9" height="14.7" fill="#bf00bf"/>
<path d="M1101.0 267.8H1422.9V282.5H1101.0" fill="none" stroke="#000" stroke-width="1.8"/>
<text x="1090" y="280.8" class="dv" font-size="10.4" text-anchor="end">g__Delftia</text>
<rect x="1101.0" y="288.0" width="321.9" height="14.7" fill="#bf00bf"/>
<path d="M1101.0 288.0H1422.9V302.7H1101.0" fill="none" stroke="#000" stroke-width="1.8"/>
<text x="1090" y="301.0" class="dv" font-size="10.4" text-anchor="end">f__Comamonadaceae</text>
<rect x="1101.0" y="308.3" width="321.9" height="14.7" fill="#bf00bf"/>
<path d="M1101.0 308.3H1422.9V323.0H1101.0" fill="none" stroke="#000" stroke-width="1.8"/>
<text x="1090" y="321.2" class="dv" font-size="10.4" text-anchor="end">o__Burkholderiales</text>
<rect x="1101.0" y="328.5" width="364.7" height="14.7" fill="#0000ff"/>
<path d="M1101.0 328.5H1465.7V343.2H1101.0" fill="none" stroke="#000" stroke-width="1.8"/>
<text x="1090" y="341.5" class="dv" font-size="10.4" text-anchor="end">g__Bacteroides</text>
<rect x="1101.0" y="348.8" width="364.7" height="14.7" fill="#0000ff"/>
<path d="M1101.0 348.8H1465.7V363.5H1101.0" fill="none" stroke="#000" stroke-width="1.8"/>
<text x="1090" y="361.7" class="dv" font-size="10.4" text-anchor="end">f__Bacteroidaceae</text>
<rect x="1101.0" y="369.0" width="339.4" height="14.7" fill="#0000ff"/>
<path d="M1101.0 369.0H1440.4V383.7H1101.0" fill="none" stroke="#000" stroke-width="1.8"/>
<text x="1090" y="381.9" class="dv" font-size="10.4" text-anchor="end">g__Blautia</text>
<rect x="1101.0" y="389.2" width="334.8" height="14.7" fill="#0000ff"/>
<path d="M1101.0 389.2H1435.8V403.9H1101.0" fill="none" stroke="#000" stroke-width="1.8"/>
<text x="1090" y="402.2" class="dv" font-size="10.4" text-anchor="end">s__Lachnospiraceae_bacterium_28_4</text>
<rect x="1101.0" y="409.5" width="325.6" height="14.7" fill="#0000ff"/>
<path d="M1101.0 409.5H1426.6V424.2H1101.0" fill="none" stroke="#000" stroke-width="1.8"/>
<text x="1090" y="422.4" class="dv" font-size="10.4" text-anchor="end">s__Bacteroides_stercorirosoris</text>
<rect x="1101.0" y="429.7" width="320.2" height="14.7" fill="#0000ff"/>
<path d="M1101.0 429.7H1421.2V444.4H1101.0" fill="none" stroke="#000" stroke-width="1.8"/>
<text x="1090" y="442.7" class="dv" font-size="10.4" text-anchor="end">o__Clostridia_UCG_014</text>
<rect x="1101.0" y="450.0" width="318.8" height="14.7" fill="#0000ff"/>
<path d="M1101.0 450.0H1419.8V464.7H1101.0" fill="none" stroke="#000" stroke-width="1.8"/>
<text x="1090" y="462.9" class="dv" font-size="10.4" text-anchor="end">o__Lactobacillales</text>
<rect x="1101.0" y="470.2" width="318.1" height="14.7" fill="#0000ff"/>
<path d="M1101.0 470.2H1419.1V484.9H1101.0" fill="none" stroke="#000" stroke-width="1.8"/>
<text x="1090" y="483.1" class="dv" font-size="10.4" text-anchor="end">f__Lactobacillaceae</text>
<rect x="1101.0" y="490.4" width="412.7" height="14.7" fill="#008000"/>
<path d="M1101.0 490.4H1513.7V505.1H1101.0" fill="none" stroke="#000" stroke-width="1.8"/>
<text x="1090" y="503.4" class="dv" font-size="10.4" text-anchor="end">o__Bacteroidales</text>
<rect x="1101.0" y="510.7" width="410.4" height="14.7" fill="#008000"/>
<path d="M1101.0 510.7H1511.4V525.4H1101.0" fill="none" stroke="#000" stroke-width="1.8"/>
<text x="1090" y="523.6" class="dv" font-size="10.4" text-anchor="end">c__Bacteroidia</text>
<rect x="1101.0" y="530.9" width="410.4" height="14.7" fill="#008000"/>
<path d="M1101.0 530.9H1511.4V545.6H1101.0" fill="none" stroke="#000" stroke-width="1.8"/>
<text x="1090" y="543.9" class="dv" font-size="10.4" text-anchor="end">p__Bacteroidota</text>
<rect x="1101.0" y="551.2" width="393.1" height="14.7" fill="#008000"/>
<path d="M1101.0 551.2H1494.1V565.9H1101.0" fill="none" stroke="#000" stroke-width="1.8"/>
<text x="1090" y="564.1" class="dv" font-size="10.4" text-anchor="end">o__Lachnospirales</text>
<rect x="1101.0" y="571.4" width="393.1" height="14.7" fill="#008000"/>
<path d="M1101.0 571.4H1494.1V586.1H1101.0" fill="none" stroke="#000" stroke-width="1.8"/>
<text x="1090" y="584.4" class="dv" font-size="10.4" text-anchor="end">f__Lachnospiraceae</text>
<rect x="1101.0" y="591.6" width="377.4" height="14.7" fill="#008000"/>
<path d="M1101.0 591.6H1478.4V606.3H1101.0" fill="none" stroke="#000" stroke-width="1.8"/>
<text x="1090" y="604.6" class="dv" font-size="10.4" text-anchor="end">f__Rikenellaceae</text>
<rect x="1101.0" y="611.9" width="373.1" height="14.7" fill="#008000"/>
<path d="M1101.0 611.9H1474.1V626.6H1101.0" fill="none" stroke="#000" stroke-width="1.8"/>
<text x="1090" y="624.8" class="dv" font-size="10.4" text-anchor="end">g__Alistipes</text>
<rect x="1101.0" y="632.1" width="372.9" height="14.7" fill="#008000"/>
<path d="M1101.0 632.1H1473.9V646.8H1101.0" fill="none" stroke="#000" stroke-width="1.8"/>
<text x="1090" y="645.1" class="dv" font-size="10.4" text-anchor="end">f__Muribaculaceae</text>
<rect x="1101.0" y="652.4" width="335.0" height="14.7" fill="#008000"/>
<path d="M1101.0 652.4H1436.0V667.1H1101.0" fill="none" stroke="#000" stroke-width="1.8"/>
<text x="1090" y="665.3" class="dv" font-size="10.4" text-anchor="end">f__Prevotellaceae</text>
<rect x="1101.0" y="672.6" width="331.7" height="14.7" fill="#008000"/>
<path d="M1101.0 672.6H1432.7V687.3H1101.0" fill="none" stroke="#000" stroke-width="1.8"/>
<text x="1090" y="685.5" class="dv" font-size="10.4" text-anchor="end">g__Alloprevotella</text>
<rect x="1101.0" y="692.8" width="327.0" height="14.7" fill="#008000"/>
<path d="M1101.0 692.8H1428.0V707.5H1101.0" fill="none" stroke="#000" stroke-width="1.8"/>
<text x="1090" y="705.8" class="dv" font-size="10.4" text-anchor="end">g__Lachnospiraceae_NK4A136_group</text>
<rect x="1101.0" y="713.1" width="416.7" height="14.7" fill="#ff0000"/>
<path d="M1101.0 713.1H1517.7V727.8H1101.0" fill="none" stroke="#000" stroke-width="1.8"/>
<text x="1090" y="726.0" class="dv" font-size="10.4" text-anchor="end">c__Clostridia</text>
<rect x="1101.0" y="733.3" width="412.5" height="14.7" fill="#ff0000"/>
<path d="M1101.0 733.3H1513.5V748.0H1101.0" fill="none" stroke="#000" stroke-width="1.8"/>
<text x="1090" y="746.3" class="dv" font-size="10.4" text-anchor="end">p__Firmicutes</text>
<rect x="1101.0" y="753.6" width="400.6" height="14.7" fill="#ff0000"/>
<path d="M1101.0 753.6H1501.6V768.3H1101.0" fill="none" stroke="#000" stroke-width="1.8"/>
<text x="1090" y="766.5" class="dv" font-size="10.4" text-anchor="end">o__Oscillospirales</text>
<rect x="1101.0" y="773.8" width="396.4" height="14.7" fill="#ff0000"/>
<path d="M1101.0 773.8H1497.4V788.5H1101.0" fill="none" stroke="#000" stroke-width="1.8"/>
<text x="1090" y="786.8" class="dv" font-size="10.4" text-anchor="end">f__Oscillospiraceae</text>
<rect x="1101.0" y="794.0" width="365.7" height="14.7" fill="#ff0000"/>
<path d="M1101.0 794.0H1466.7V808.7H1101.0" fill="none" stroke="#000" stroke-width="1.8"/>
<text x="1090" y="807.0" class="dv" font-size="10.4" text-anchor="end">o__Flavobacteriales</text>
<rect x="1101.0" y="814.3" width="365.7" height="14.7" fill="#ff0000"/>
<path d="M1101.0 814.3H1466.7V829.0H1101.0" fill="none" stroke="#000" stroke-width="1.8"/>
<text x="1090" y="827.2" class="dv" font-size="10.4" text-anchor="end">g__Chryseobacterium</text>
<rect x="1101.0" y="834.5" width="365.7" height="14.7" fill="#ff0000"/>
<path d="M1101.0 834.5H1466.7V849.2H1101.0" fill="none" stroke="#000" stroke-width="1.8"/>
<text x="1090" y="847.5" class="dv" font-size="10.4" text-anchor="end">f__Weeksellaceae</text>
<rect x="1101.0" y="854.8" width="356.3" height="14.7" fill="#ff0000"/>
<path d="M1101.0 854.8H1457.3V869.5H1101.0" fill="none" stroke="#000" stroke-width="1.8"/>
<text x="1090" y="867.7" class="dv" font-size="10.4" text-anchor="end">g__Colidextribacter</text>
<rect x="1101.0" y="875.0" width="331.6" height="14.7" fill="#ff0000"/>
<path d="M1101.0 875.0H1432.6V889.7H1101.0" fill="none" stroke="#000" stroke-width="1.8"/>
<text x="1090" y="887.9" class="dv" font-size="10.4" text-anchor="end">f__Desulfovibrionaceae</text>
<rect x="1101.0" y="895.2" width="331.6" height="14.7" fill="#ff0000"/>
<path d="M1101.0 895.2H1432.6V909.9H1101.0" fill="none" stroke="#000" stroke-width="1.8"/>
<text x="1090" y="908.2" class="dv" font-size="10.4" text-anchor="end">o__Desulfovibrionales</text>
<rect x="1101.0" y="915.5" width="331.6" height="14.7" fill="#ff0000"/>
<path d="M1101.0 915.5H1432.6V930.2H1101.0" fill="none" stroke="#000" stroke-width="1.8"/>
<text x="1090" y="928.4" class="dv" font-size="10.4" text-anchor="end">c__Desulfovibrionia</text>
<rect x="1101.0" y="935.7" width="331.6" height="14.7" fill="#ff0000"/>
<path d="M1101.0 935.7H1432.6V950.4H1101.0" fill="none" stroke="#000" stroke-width="1.8"/>
<text x="1090" y="948.7" class="dv" font-size="10.4" text-anchor="end">p__Desulfobacterota</text>
<rect x="1101.0" y="956.0" width="320.8" height="14.7" fill="#ff0000"/>
<path d="M1101.0 956.0H1421.8V970.7H1101.0" fill="none" stroke="#000" stroke-width="1.8"/>
<text x="1090" y="968.9" class="dv" font-size="10.4" text-anchor="end">f__Ruminococcaceae</text>
<rect x="1101.0" y="976.2" width="319.3" height="14.7" fill="#ff0000"/>
<path d="M1101.0 976.2H1420.3V990.9H1101.0" fill="none" stroke="#000" stroke-width="1.8"/>
<text x="1090" y="989.1" class="dv" font-size="10.4" text-anchor="end">g__Bilophila</text>
<line x1="1101.0" y1="53.5" x2="1101.0" y2="1008.5" stroke="#111" stroke-width="1" stroke-dasharray="1.3,1.9" stroke-opacity="0.85"/>
<line x1="1180.2" y1="53.5" x2="1180.2" y2="1008.5" stroke="#111" stroke-width="1" stroke-dasharray="1.3,1.9" stroke-opacity="0.85"/>
<line x1="1259.5" y1="53.5" x2="1259.5" y2="1008.5" stroke="#111" stroke-width="1" stroke-dasharray="1.3,1.9" stroke-opacity="0.85"/>
<line x1="1338.8" y1="53.5" x2="1338.8" y2="1008.5" stroke="#111" stroke-width="1" stroke-dasharray="1.3,1.9" stroke-opacity="0.85"/>
<line x1="1418.0" y1="53.5" x2="1418.0" y2="1008.5" stroke="#111" stroke-width="1" stroke-dasharray="1.3,1.9" stroke-opacity="0.85"/>
<line x1="1497.2" y1="53.5" x2="1497.2" y2="1008.5" stroke="#111" stroke-width="1" stroke-dasharray="1.3,1.9" stroke-opacity="0.85"/>
<line x1="1101.0" y1="1002.4" x2="1101.0" y2="1008.5" stroke="#000" stroke-width="1.3"/>
<text x="1101.0" y="1025.6" class="dv" font-size="14.5" text-anchor="middle">0</text>
<line x1="1180.2" y1="1002.4" x2="1180.2" y2="1008.5" stroke="#000" stroke-width="1.3"/>
<text x="1180.2" y="1025.6" class="dv" font-size="14.5" text-anchor="middle">1</text>
<line x1="1259.5" y1="1002.4" x2="1259.5" y2="1008.5" stroke="#000" stroke-width="1.3"/>
<text x="1259.5" y="1025.6" class="dv" font-size="14.5" text-anchor="middle">2</text>
<line x1="1338.8" y1="1002.4" x2="1338.8" y2="1008.5" stroke="#000" stroke-width="1.3"/>
<text x="1338.8" y="1025.6" class="dv" font-size="14.5" text-anchor="middle">3</text>
<line x1="1418.0" y1="1002.4" x2="1418.0" y2="1008.5" stroke="#000" stroke-width="1.3"/>
<text x="1418.0" y="1025.6" class="dv" font-size="14.5" text-anchor="middle">4</text>
<line x1="1497.2" y1="1002.4" x2="1497.2" y2="1008.5" stroke="#000" stroke-width="1.3"/>
<text x="1497.2" y="1025.6" class="dv" font-size="14.5" text-anchor="middle">5</text>
<text x="1325.5" y="1046" class="dv" font-size="14.7" text-anchor="middle">LDA SCORE (log 10)</text>
<text x="3.5" y="580.5" class="lt" font-size="50">C</text>
<rect x="59.3" y="574.50" width="17.1" height="42.58" fill="#db8ef7" stroke="#9a9a9a" stroke-width="0.8"/>
<rect x="78.80" y="574.50" width="94.55" height="42.58" fill="#de4533" stroke="#9a9a9a" stroke-width="0.8"/>
<rect x="173.35" y="574.50" width="94.55" height="42.58" fill="#8fbad9" stroke="#9a9a9a" stroke-width="0.8"/>
<rect x="267.90" y="574.50" width="94.55" height="42.58" fill="#f2f8d4" stroke="#9a9a9a" stroke-width="0.8"/>
<rect x="362.45" y="574.50" width="94.55" height="42.58" fill="#f3f7d2" stroke="#9a9a9a" stroke-width="0.8"/>
<text x="460" y="602.0" class="ls" font-size="17">Akkermansia</text>
<rect x="59.3" y="617.08" width="17.1" height="42.58" fill="#f8877f" stroke="#9a9a9a" stroke-width="0.8"/>
<rect x="78.80" y="617.08" width="94.55" height="42.58" fill="#dc4030" stroke="#9a9a9a" stroke-width="0.8"/>
<rect x="173.35" y="617.08" width="94.55" height="42.58" fill="#f6f9d4" stroke="#9a9a9a" stroke-width="0.8"/>
<rect x="267.90" y="617.08" width="94.55" height="42.58" fill="#edf5df" stroke="#9a9a9a" stroke-width="0.8"/>
<rect x="362.45" y="617.08" width="94.55" height="42.58" fill="#96bfdc" stroke="#9a9a9a" stroke-width="0.8"/>
<text x="460" y="644.6" class="ls" font-size="17">Faecalibaculum</text>
<rect x="59.3" y="659.66" width="17.1" height="42.58" fill="#00d6de" stroke="#9a9a9a" stroke-width="0.8"/>
<rect x="78.80" y="659.66" width="94.55" height="42.58" fill="#d52f27" stroke="#9a9a9a" stroke-width="0.8"/>
<rect x="173.35" y="659.66" width="94.55" height="42.58" fill="#ecf5e1" stroke="#9a9a9a" stroke-width="0.8"/>
<rect x="267.90" y="659.66" width="94.55" height="42.58" fill="#d3e9f2" stroke="#9a9a9a" stroke-width="0.8"/>
<rect x="362.45" y="659.66" width="94.55" height="42.58" fill="#d4e9f2" stroke="#9a9a9a" stroke-width="0.8"/>
<text x="460" y="687.1" class="ls" font-size="17">Stenotrophomonas</text>
<rect x="59.3" y="702.24" width="17.1" height="42.58" fill="#00d6de" stroke="#9a9a9a" stroke-width="0.8"/>
<rect x="78.80" y="702.24" width="94.55" height="42.58" fill="#d52f27" stroke="#9a9a9a" stroke-width="0.8"/>
<rect x="173.35" y="702.24" width="94.55" height="42.58" fill="#e1f1f5" stroke="#9a9a9a" stroke-width="0.8"/>
<rect x="267.90" y="702.24" width="94.55" height="42.58" fill="#d9ecf4" stroke="#9a9a9a" stroke-width="0.8"/>
<rect x="362.45" y="702.24" width="94.55" height="42.58" fill="#d9ecf4" stroke="#9a9a9a" stroke-width="0.8"/>
<text x="460" y="729.7" class="ls" font-size="17">Delftia</text>
<rect x="59.3" y="744.82" width="17.1" height="42.58" fill="#99c800" stroke="#9a9a9a" stroke-width="0.8"/>
<rect x="78.80" y="744.82" width="94.55" height="42.58" fill="#4a78b6" stroke="#9a9a9a" stroke-width="0.8"/>
<rect x="173.35" y="744.82" width="94.55" height="42.58" fill="#f89d60" stroke="#9a9a9a" stroke-width="0.8"/>
<rect x="267.90" y="744.82" width="94.55" height="42.58" fill="#fde7a0" stroke="#9a9a9a" stroke-width="0.8"/>
<rect x="362.45" y="744.82" width="94.55" height="42.58" fill="#fde8a1" stroke="#9a9a9a" stroke-width="0.8"/>
<text x="460" y="772.3" class="ls" font-size="17">Bacteroides</text>
<rect x="59.3" y="787.40" width="17.1" height="42.58" fill="#99c800" stroke="#9a9a9a" stroke-width="0.8"/>
<rect x="78.80" y="787.40" width="94.55" height="42.58" fill="#6e9dcc" stroke="#9a9a9a" stroke-width="0.8"/>
<rect x="173.35" y="787.40" width="94.55" height="42.58" fill="#e9f5e4" stroke="#9a9a9a" stroke-width="0.8"/>
<rect x="267.90" y="787.40" width="94.55" height="42.58" fill="#fddd8e" stroke="#9a9a9a" stroke-width="0.8"/>
<rect x="362.45" y="787.40" width="94.55" height="42.58" fill="#f57f51" stroke="#9a9a9a" stroke-width="0.8"/>
<text x="460" y="814.9" class="ls" font-size="17">Alistipes</text>
<rect x="59.3" y="829.98" width="17.1" height="42.58" fill="#99c800" stroke="#9a9a9a" stroke-width="0.8"/>
<rect x="78.80" y="829.98" width="94.55" height="42.58" fill="#74a4cf" stroke="#9a9a9a" stroke-width="0.8"/>
<rect x="173.35" y="829.98" width="94.55" height="42.58" fill="#feeaa3" stroke="#9a9a9a" stroke-width="0.8"/>
<rect x="267.90" y="829.98" width="94.55" height="42.58" fill="#eef7df" stroke="#9a9a9a" stroke-width="0.8"/>
<rect x="362.45" y="829.98" width="94.55" height="42.58" fill="#e55e3f" stroke="#9a9a9a" stroke-width="0.8"/>
<text x="460" y="857.5" class="ls" font-size="17">Alloprevotella</text>
<rect x="59.3" y="872.56" width="17.1" height="42.58" fill="#f8877f" stroke="#9a9a9a" stroke-width="0.8"/>
<rect x="78.80" y="872.56" width="94.55" height="42.58" fill="#ddeff5" stroke="#9a9a9a" stroke-width="0.8"/>
<rect x="173.35" y="872.56" width="94.55" height="42.58" fill="#fa9458" stroke="#9a9a9a" stroke-width="0.8"/>
<rect x="267.90" y="872.56" width="94.55" height="42.58" fill="#77a7d0" stroke="#9a9a9a" stroke-width="0.8"/>
<rect x="362.45" y="872.56" width="94.55" height="42.58" fill="#fdb06c" stroke="#9a9a9a" stroke-width="0.8"/>
<text x="460" y="900.0" class="ls" font-size="17">Romboutsia</text>
<rect x="59.3" y="915.14" width="17.1" height="42.58" fill="#99c800" stroke="#9a9a9a" stroke-width="0.8"/>
<rect x="78.80" y="915.14" width="94.55" height="42.58" fill="#fefbbd" stroke="#9a9a9a" stroke-width="0.8"/>
<rect x="173.35" y="915.14" width="94.55" height="42.58" fill="#dc3e2e" stroke="#9a9a9a" stroke-width="0.8"/>
<rect x="267.90" y="915.14" width="94.55" height="42.58" fill="#b8d9ea" stroke="#9a9a9a" stroke-width="0.8"/>
<rect x="362.45" y="915.14" width="94.55" height="42.58" fill="#b6d7e9" stroke="#9a9a9a" stroke-width="0.8"/>
<text x="460" y="942.6" class="ls" font-size="17">Chryseobacterium</text>
<rect x="59.3" y="957.72" width="17.1" height="42.58" fill="#f8877f" stroke="#9a9a9a" stroke-width="0.8"/>
<rect x="78.80" y="957.72" width="94.55" height="42.58" fill="#a6cce4" stroke="#9a9a9a" stroke-width="0.8"/>
<rect x="173.35" y="957.72" width="94.55" height="42.58" fill="#d9352a" stroke="#9a9a9a" stroke-width="0.8"/>
<rect x="267.90" y="957.72" width="94.55" height="42.58" fill="#ecf6e2" stroke="#9a9a9a" stroke-width="0.8"/>
<rect x="362.45" y="957.72" width="94.55" height="42.58" fill="#edf6df" stroke="#9a9a9a" stroke-width="0.8"/>
<text x="460" y="985.2" class="ls" font-size="17">Colidextribacter</text>
<text x="119.9" y="1003" class="ls" font-size="17" transform="rotate(90 119.9 1003)">NC</text>
<text x="214.4" y="1003" class="ls" font-size="17" transform="rotate(90 214.4 1003)">HC</text>
<text x="309.0" y="1003" class="ls" font-size="17" transform="rotate(90 309.0 1003)">LIDF</text>
<text x="403.5" y="1003" class="ls" font-size="17" transform="rotate(90 403.5 1003)">HIDF</text>
<text x="61.5" y="1003" class="ls" font-size="16.5" font-weight="bold" transform="rotate(90 61.5 1003)">Phylum</text>
<line x1="58.6" y1="595.2" x2="43.2" y2="595.2" stroke="#333" stroke-width="1.4" stroke-linecap="square"/>
<line x1="58.6" y1="637.9" x2="50.7" y2="637.9" stroke="#333" stroke-width="1.4" stroke-linecap="square"/>
<line x1="58.6" y1="681.1" x2="56.6" y2="681.1" stroke="#333" stroke-width="1.4" stroke-linecap="square"/>
<line x1="58.6" y1="722.8" x2="56.6" y2="722.8" stroke="#333" stroke-width="1.4" stroke-linecap="square"/>
<line x1="56.6" y1="681.1" x2="56.6" y2="722.8" stroke="#333" stroke-width="1.4" stroke-linecap="square"/>
<line x1="56.6" y1="701.9" x2="50.7" y2="701.9" stroke="#333" stroke-width="1.4" stroke-linecap="square"/>
<line x1="50.7" y1="637.9" x2="50.7" y2="701.9" stroke="#333" stroke-width="1.4" stroke-linecap="square"/>
<line x1="50.7" y1="669.9" x2="43.2" y2="669.9" stroke="#333" stroke-width="1.4" stroke-linecap="square"/>
<line x1="43.2" y1="595.2" x2="43.2" y2="669.9" stroke="#333" stroke-width="1.4" stroke-linecap="square"/>
<line x1="43.2" y1="632.6" x2="13.4" y2="632.6" stroke="#333" stroke-width="1.4" stroke-linecap="square"/>
<line x1="58.4" y1="765.5" x2="38.9" y2="765.5" stroke="#333" stroke-width="1.4" stroke-linecap="square"/>
<line x1="58.4" y1="808.6" x2="45.5" y2="808.6" stroke="#333" stroke-width="1.4" stroke-linecap="square"/>
<line x1="58.4" y1="850.9" x2="45.5" y2="850.9" stroke="#333" stroke-width="1.4" stroke-linecap="square"/>
<line x1="45.5" y1="808.6" x2="45.5" y2="850.9" stroke="#333" stroke-width="1.4" stroke-linecap="square"/>
<line x1="45.5" y1="829.5" x2="38.9" y2="829.5" stroke="#333" stroke-width="1.4" stroke-linecap="square"/>
<line x1="38.9" y1="765.5" x2="38.9" y2="829.5" stroke="#333" stroke-width="1.4" stroke-linecap="square"/>
<line x1="38.9" y1="797.9" x2="18.5" y2="797.9" stroke="#333" stroke-width="1.4" stroke-linecap="square"/>
<line x1="58.4" y1="893.7" x2="36.5" y2="893.7" stroke="#333" stroke-width="1.4" stroke-linecap="square"/>
<line x1="58.4" y1="935.7" x2="44.5" y2="935.7" stroke="#333" stroke-width="1.4" stroke-linecap="square"/>
<line x1="58.4" y1="978.3" x2="44.5" y2="978.3" stroke="#333" stroke-width="1.4" stroke-linecap="square"/>
<line x1="44.5" y1="935.7" x2="44.5" y2="978.3" stroke="#333" stroke-width="1.4" stroke-linecap="square"/>
<line x1="44.5" y1="956.9" x2="36.5" y2="956.9" stroke="#333" stroke-width="1.4" stroke-linecap="square"/>
<line x1="36.5" y1="893.7" x2="36.5" y2="956.9" stroke="#333" stroke-width="1.4" stroke-linecap="square"/>
<line x1="36.5" y1="925.3" x2="18.5" y2="925.3" stroke="#333" stroke-width="1.4" stroke-linecap="square"/>
<line x1="18.5" y1="797.9" x2="18.5" y2="925.3" stroke="#333" stroke-width="1.4" stroke-linecap="square"/>
<line x1="18.5" y1="861.6" x2="13.4" y2="861.6" stroke="#333" stroke-width="1.4" stroke-linecap="square"/>
<line x1="13.4" y1="632.6" x2="13.4" y2="861.6" stroke="#333" stroke-width="1.4" stroke-linecap="square"/>
<defs><linearGradient id="cb" x1="0" y1="0" x2="0" y2="1"><stop offset="0" stop-color="#d73027"/><stop offset="0.1667" stop-color="#fc8d59"/><stop offset="0.3333" stop-color="#fee090"/><stop offset="0.5" stop-color="#ffffbf"/><stop offset="0.6667" stop-color="#e0f3f8"/><stop offset="0.8333" stop-color="#91bfdb"/><stop offset="1" stop-color="#4575b4"/></linearGradient></defs>
<rect x="610" y="574.6" width="8.4" height="127.6" fill="url(#cb)"/>
<text x="622.4" y="602.5" class="ls" font-size="16.5">1</text>
<text x="622.4" y="623.7" class="ls" font-size="16.5">0.5</text>
<text x="622.4" y="644.9" class="ls" font-size="16.5">0</text>
<text x="622.4" y="666.1" class="ls" font-size="16.5">−0.5</text>
<text x="622.4" y="687.3" class="ls" font-size="16.5">−1</text>
<text x="665.7" y="587.5" class="ls" font-size="16.5" font-weight="bold">Phylum</text>
<rect x="665" y="592.7" width="24.2" height="24.6" fill="#99c800" stroke="#aaa" stroke-width="0.6"/>
<text x="694.5" y="611.1" class="ls" font-size="16.9">Bacteroidota</text>
<rect x="665" y="617.3" width="24.2" height="24.6" fill="#f8877f" stroke="#aaa" stroke-width="0.6"/>
<text x="694.5" y="638.1" class="ls" font-size="17.5">Bacillota</text>
<rect x="665" y="641.9" width="24.2" height="24.6" fill="#00d6de" stroke="#aaa" stroke-width="0.6"/>
<text x="694.5" y="659.8" class="ls" font-size="17.8">Pseudomonadota</text>
<rect x="665" y="666.5" width="24.2" height="24.6" fill="#db8ef7" stroke="#aaa" stroke-width="0.6"/>
<text x="694.5" y="684.4" class="ls" font-size="16.9">Verrucomicrobiota</text>
</svg>
</body></html>
